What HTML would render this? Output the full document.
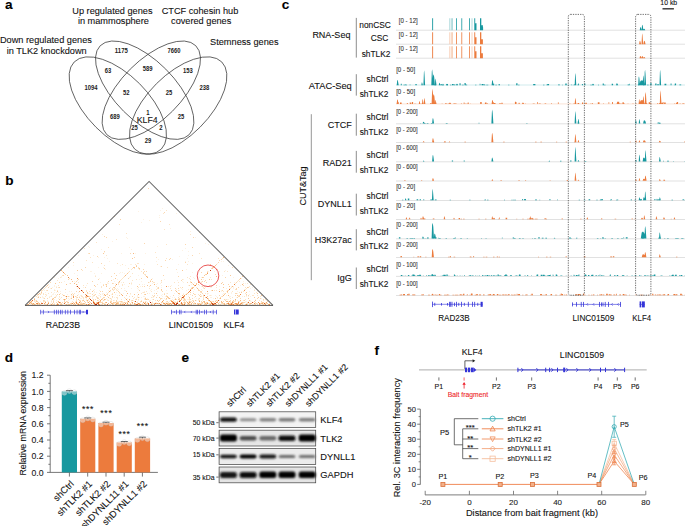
<!DOCTYPE html>
<html><head><meta charset="utf-8"><style>
html,body{margin:0;padding:0;background:#fff;width:685px;height:526px;overflow:hidden}
svg{display:block;font-family:"Liberation Sans", sans-serif}
text{stroke-width:0.1px}
</style></head><body>
<svg width="685" height="526" viewBox="0 0 685 526">
<rect width="685" height="526" fill="#fff"/>
<text x="4.9" y="9" font-size="13.6" text-anchor="start" font-weight="bold" fill="#000" stroke="#000" stroke-width="0.6">a</text>
<text x="5.3" y="185.1" font-size="13.6" text-anchor="start" font-weight="bold" fill="#000" stroke="#000" stroke-width="0.6">b</text>
<text x="281.8" y="9.1" font-size="13.6" text-anchor="start" font-weight="bold" fill="#000" stroke="#000" stroke-width="0.6">c</text>
<text x="4.8" y="361.9" font-size="13.6" text-anchor="start" font-weight="bold" fill="#000" stroke="#000" stroke-width="0.6">d</text>
<text x="181.5" y="362.1" font-size="13.6" text-anchor="start" font-weight="bold" fill="#000" stroke="#000" stroke-width="0.6">e</text>
<text x="374.6" y="354.9" font-size="13.6" text-anchor="start" font-weight="bold" fill="#000" stroke="#000" stroke-width="0.6">f</text>
<text x="112.4" y="13.9" font-size="9.2" text-anchor="middle" font-weight="normal" fill="#111" stroke="#111" >Up regulated genes</text>
<text x="113.4" y="24" font-size="9.2" text-anchor="middle" font-weight="normal" fill="#111" stroke="#111" >in mammosphere</text>
<text x="200" y="13.7" font-size="9.2" text-anchor="middle" font-weight="normal" fill="#111" stroke="#111" >CTCF cohesin hub</text>
<text x="201.2" y="24" font-size="9.2" text-anchor="middle" font-weight="normal" fill="#111" stroke="#111" >covered genes</text>
<text x="45.9" y="43" font-size="9.2" text-anchor="middle" font-weight="normal" fill="#111" stroke="#111" >Down regulated genes</text>
<text x="46.7" y="54" font-size="9.2" text-anchor="middle" font-weight="normal" fill="#111" stroke="#111" >in TLK2 knockdown</text>
<text x="244.3" y="45.4" font-size="9.2" text-anchor="middle" font-weight="normal" fill="#111" stroke="#111" >Stemness genes</text>
<ellipse cx="117.8" cy="105.5" rx="61.6" ry="30.8" transform="rotate(45 117.8 105.5)" fill="none" stroke="#333" stroke-width="0.72"/>
<ellipse cx="178.2" cy="105.5" rx="61.6" ry="30.8" transform="rotate(-45 178.2 105.5)" fill="none" stroke="#333" stroke-width="0.72"/>
<ellipse cx="144.7" cy="90.2" rx="62.9" ry="29.8" transform="rotate(45 144.7 90.2)" fill="none" stroke="#333" stroke-width="0.72"/>
<ellipse cx="151.3" cy="90.2" rx="62.9" ry="29.8" transform="rotate(-45 151.3 90.2)" fill="none" stroke="#333" stroke-width="0.72"/>
<text x="121.3" y="53.4" font-size="6.5" text-anchor="middle" font-weight="bold" fill="#222" textLength="13" lengthAdjust="spacingAndGlyphs">1175</text>
<text x="174.1" y="53" font-size="6.5" text-anchor="middle" font-weight="bold" fill="#222" textLength="13" lengthAdjust="spacingAndGlyphs">7660</text>
<text x="108.1" y="73.1" font-size="6.5" text-anchor="middle" font-weight="bold" fill="#222" textLength="6.5" lengthAdjust="spacingAndGlyphs">63</text>
<text x="147.6" y="71.2" font-size="6.5" text-anchor="middle" font-weight="bold" fill="#222" textLength="9.8" lengthAdjust="spacingAndGlyphs">589</text>
<text x="187.8" y="72.9" font-size="6.5" text-anchor="middle" font-weight="bold" fill="#222" textLength="9.8" lengthAdjust="spacingAndGlyphs">153</text>
<text x="91" y="90.3" font-size="6.5" text-anchor="middle" font-weight="bold" fill="#222" textLength="13" lengthAdjust="spacingAndGlyphs">1094</text>
<text x="126.3" y="94.9" font-size="6.5" text-anchor="middle" font-weight="bold" fill="#222" textLength="6.5" lengthAdjust="spacingAndGlyphs">52</text>
<text x="169" y="94.8" font-size="6.5" text-anchor="middle" font-weight="bold" fill="#222" textLength="6.5" lengthAdjust="spacingAndGlyphs">25</text>
<text x="204.5" y="90.4" font-size="6.5" text-anchor="middle" font-weight="bold" fill="#222" textLength="9.8" lengthAdjust="spacingAndGlyphs">238</text>
<text x="147.9" y="114.6" font-size="6.5" text-anchor="middle" font-weight="bold" fill="#222" textLength="3.3" lengthAdjust="spacingAndGlyphs">1</text>
<text x="114.9" y="119.2" font-size="6.5" text-anchor="middle" font-weight="bold" fill="#222" textLength="9.8" lengthAdjust="spacingAndGlyphs">689</text>
<text x="180.9" y="119.2" font-size="6.5" text-anchor="middle" font-weight="bold" fill="#222" textLength="6.5" lengthAdjust="spacingAndGlyphs">25</text>
<text x="134.4" y="130.3" font-size="6.5" text-anchor="middle" font-weight="bold" fill="#222" textLength="6.5" lengthAdjust="spacingAndGlyphs">25</text>
<text x="161" y="130.3" font-size="6.5" text-anchor="middle" font-weight="bold" fill="#222" textLength="3.3" lengthAdjust="spacingAndGlyphs">2</text>
<text x="147.9" y="143.2" font-size="6.5" text-anchor="middle" font-weight="bold" fill="#222" textLength="6.5" lengthAdjust="spacingAndGlyphs">29</text>
<text x="147.2" y="122.7" font-size="8.8" text-anchor="middle" font-weight="normal" fill="#111" stroke="#111" >KLF4</text>
<defs><filter id="hb" x="-5%" y="-5%" width="110%" height="110%"><feGaussianBlur stdDeviation="0.45"/></filter></defs>
<g filter="url(#hb)">
<path d="M162 208h1v1h-1zM160 210h1v1h-1zM138 211h1v1h-1zM176 213h1v1h-1zM159 215h1v1h-1zM159 217h1v1h-1zM143 219h1v1h-1zM149 220h1v1h-1zM141 222h1v1h-1zM170 228h1v1h-1zM190 231h1v1h-1zM102 234h1v1h-1zM126 237h1v1h-1zM195 237h1v1h-1zM127 238h1v1h-1zM112 241h1v1h-1zM205 243h1v1h-1zM208 244h1v1h-1zM88 246h1v1h-1zM157 246h1v1h-1zM89 247h1v1h-1zM129 247h1v1h-1zM185 248h1v1h-1zM101 249h1v1h-1zM131 249h1v1h-1zM182 250h1v1h-1zM188 251h1v1h-1zM104 252h1v1h-1zM121 253h1v1h-1zM135 253h1v1h-1zM145 253h1v1h-1zM78 255h1v1h-1zM93 255h1v1h-1zM188 255h1v1h-1zM179 256h1v1h-1zM98 257h1v1h-1zM104 257h1v1h-1zM107 258h1v1h-1zM187 258h1v1h-1zM158 259h1v1h-1zM172 259h1v1h-1zM109 261h1v1h-1zM156 261h1v1h-1zM185 261h1v1h-1zM188 261h1v1h-1zM221 261h1v1h-1zM223 261h1v1h-1zM192 263h1v1h-1zM217 263h1v1h-1zM130 264h1v1h-1zM131 264h1v1h-1zM144 264h1v1h-1zM178 264h1v1h-1zM73 265h1v1h-1zM120 265h1v1h-1zM125 265h1v1h-1zM228 265h1v1h-1zM160 266h1v1h-1zM68 267h1v1h-1zM98 267h1v1h-1zM103 267h1v1h-1zM105 269h1v1h-1zM186 269h1v1h-1zM225 270h1v1h-1zM90 271h1v1h-1zM91 271h1v1h-1zM199 271h1v1h-1zM208 271h1v1h-1zM214 271h1v1h-1zM219 271h1v1h-1zM120 272h1v1h-1zM122 272h1v1h-1zM177 272h1v1h-1zM192 272h1v1h-1zM74 273h1v1h-1zM94 273h1v1h-1zM101 273h1v1h-1zM119 273h1v1h-1zM124 273h1v1h-1zM77 275h1v1h-1zM95 275h1v1h-1zM138 275h1v1h-1zM222 275h1v1h-1zM61 276h1v1h-1zM54 277h1v1h-1zM61 277h1v1h-1zM129 277h1v1h-1zM193 277h1v1h-1zM199 277h1v1h-1zM201 277h1v1h-1zM233 277h1v1h-1zM58 278h1v1h-1zM99 278h1v1h-1zM152 278h1v1h-1zM194 278h1v1h-1zM241 278h1v1h-1zM113 279h1v1h-1zM117 279h1v1h-1zM139 279h1v1h-1zM164 279h1v1h-1zM183 279h1v1h-1zM203 279h1v1h-1zM177 280h1v1h-1zM64 281h1v1h-1zM74 281h1v1h-1zM114 281h1v1h-1zM141 281h1v1h-1zM161 281h1v1h-1zM182 281h1v1h-1zM201 281h1v1h-1zM217 281h1v1h-1zM243 281h1v1h-1zM75 282h1v1h-1zM100 282h1v1h-1zM107 282h1v1h-1zM121 282h1v1h-1zM131 282h1v1h-1zM149 282h1v1h-1zM183 282h1v1h-1zM194 282h1v1h-1zM216 282h1v1h-1zM234 282h1v1h-1zM69 283h1v1h-1zM107 283h1v1h-1zM108 283h1v1h-1zM115 283h1v1h-1zM152 283h1v1h-1zM157 283h1v1h-1zM160 283h1v1h-1zM245 283h1v1h-1zM77 284h1v1h-1zM124 284h1v1h-1zM131 284h1v1h-1zM142 284h1v1h-1zM144 284h1v1h-1zM156 284h1v1h-1zM191 284h1v1h-1zM54 285h1v1h-1zM86 285h1v1h-1zM161 285h1v1h-1zM171 285h1v1h-1zM188 285h1v1h-1zM199 285h1v1h-1zM235 285h1v1h-1zM240 285h1v1h-1zM49 286h1v1h-1zM54 286h1v1h-1zM56 286h1v1h-1zM119 286h1v1h-1zM140 286h1v1h-1zM194 286h1v1h-1zM201 286h1v1h-1zM219 286h1v1h-1zM231 286h1v1h-1zM233 286h1v1h-1zM52 287h1v1h-1zM83 287h1v1h-1zM110 287h1v1h-1zM157 287h1v1h-1zM161 287h1v1h-1zM191 287h1v1h-1zM205 287h1v1h-1zM210 287h1v1h-1zM211 287h1v1h-1zM233 287h1v1h-1zM252 287h1v1h-1zM50 288h1v1h-1zM77 288h1v1h-1zM114 288h1v1h-1zM117 288h1v1h-1zM124 288h1v1h-1zM131 288h1v1h-1zM137 288h1v1h-1zM181 288h1v1h-1zM203 288h1v1h-1zM226 288h1v1h-1zM229 288h1v1h-1zM233 288h1v1h-1zM250 288h1v1h-1zM41 289h1v1h-1zM54 289h1v1h-1zM94 289h1v1h-1zM113 289h1v1h-1zM118 289h1v1h-1zM138 289h1v1h-1zM151 289h1v1h-1zM176 289h1v1h-1zM182 289h1v1h-1zM191 289h1v1h-1zM194 289h1v1h-1zM201 289h1v1h-1zM244 289h1v1h-1zM254 289h1v1h-1zM44 290h1v1h-1zM55 290h1v1h-1zM99 290h1v1h-1zM108 290h1v1h-1zM116 290h1v1h-1zM124 290h1v1h-1zM125 290h1v1h-1zM150 290h1v1h-1zM154 290h1v1h-1zM166 290h1v1h-1zM179 290h1v1h-1zM186 290h1v1h-1zM202 290h1v1h-1zM221 290h1v1h-1zM60 291h1v1h-1zM69 291h1v1h-1zM71 291h1v1h-1zM94 291h1v1h-1zM110 291h1v1h-1zM144 291h1v1h-1zM157 291h1v1h-1zM193 291h1v1h-1zM221 291h1v1h-1zM226 291h1v1h-1zM237 291h1v1h-1zM241 291h1v1h-1zM249 291h1v1h-1zM257 291h1v1h-1zM45 292h1v1h-1zM54 292h1v1h-1zM56 292h1v1h-1zM58 292h1v1h-1zM65 292h1v1h-1zM78 292h1v1h-1zM94 292h1v1h-1zM96 292h1v1h-1zM106 292h1v1h-1zM116 292h1v1h-1zM137 292h1v1h-1zM142 292h1v1h-1zM231 292h1v1h-1zM40 293h1v1h-1zM53 293h1v1h-1zM88 293h1v1h-1zM89 293h1v1h-1zM93 293h1v1h-1zM102 293h1v1h-1zM103 293h1v1h-1zM119 293h1v1h-1zM120 293h1v1h-1zM123 293h1v1h-1zM149 293h1v1h-1zM166 293h1v1h-1zM174 293h1v1h-1zM183 293h1v1h-1zM186 293h1v1h-1zM208 293h1v1h-1zM223 293h1v1h-1zM224 293h1v1h-1zM228 293h1v1h-1zM231 293h1v1h-1zM237 293h1v1h-1zM36 294h1v1h-1zM46 294h1v1h-1zM52 294h1v1h-1zM53 294h1v1h-1zM55 294h1v1h-1zM67 294h1v1h-1zM78 294h1v1h-1zM86 294h1v1h-1zM94 294h1v1h-1zM102 294h1v1h-1zM111 294h1v1h-1zM115 294h1v1h-1zM130 294h1v1h-1zM162 294h1v1h-1zM188 294h1v1h-1zM203 294h1v1h-1zM207 294h1v1h-1zM222 294h1v1h-1zM249 294h1v1h-1zM51 295h1v1h-1zM71 295h1v1h-1zM72 295h1v1h-1zM80 295h1v1h-1zM98 295h1v1h-1zM99 295h1v1h-1zM103 295h1v1h-1zM117 295h1v1h-1zM137 295h1v1h-1zM161 295h1v1h-1zM178 295h1v1h-1zM201 295h1v1h-1zM209 295h1v1h-1zM211 295h1v1h-1zM215 295h1v1h-1zM226 295h1v1h-1zM238 295h1v1h-1zM35 296h1v1h-1zM42 296h1v1h-1zM49 296h1v1h-1zM50 296h1v1h-1zM55 296h1v1h-1zM56 296h1v1h-1zM67 296h1v1h-1zM69 296h1v1h-1zM71 296h1v1h-1zM76 296h1v1h-1zM79 296h1v1h-1zM92 296h1v1h-1zM93 296h1v1h-1zM137 296h1v1h-1zM143 296h1v1h-1zM144 296h1v1h-1zM154 296h1v1h-1zM162 296h1v1h-1zM165 296h1v1h-1zM170 296h1v1h-1zM179 296h1v1h-1zM180 296h1v1h-1zM188 296h1v1h-1zM216 296h1v1h-1zM229 296h1v1h-1zM230 296h1v1h-1zM242 296h1v1h-1zM246 296h1v1h-1zM248 296h1v1h-1zM250 296h1v1h-1zM37 297h1v1h-1zM42 297h1v1h-1zM43 297h1v1h-1zM59 297h1v1h-1zM66 297h1v1h-1zM71 297h1v1h-1zM82 297h1v1h-1zM89 297h1v1h-1zM92 297h1v1h-1zM96 297h1v1h-1zM98 297h1v1h-1zM100 297h1v1h-1zM114 297h1v1h-1zM137 297h1v1h-1zM139 297h1v1h-1zM141 297h1v1h-1zM145 297h1v1h-1zM152 297h1v1h-1zM153 297h1v1h-1zM172 297h1v1h-1zM174 297h1v1h-1zM194 297h1v1h-1zM210 297h1v1h-1zM211 297h1v1h-1zM229 297h1v1h-1zM236 297h1v1h-1zM43 298h1v1h-1zM58 298h1v1h-1zM60 298h1v1h-1zM68 298h1v1h-1zM70 298h1v1h-1zM76 298h1v1h-1zM80 298h1v1h-1zM81 298h1v1h-1zM86 298h1v1h-1zM92 298h1v1h-1zM103 298h1v1h-1zM106 298h1v1h-1zM109 298h1v1h-1zM111 298h1v1h-1zM127 298h1v1h-1zM136 298h1v1h-1zM144 298h1v1h-1zM147 298h1v1h-1zM162 298h1v1h-1zM164 298h1v1h-1zM170 298h1v1h-1zM178 298h1v1h-1zM182 298h1v1h-1zM196 298h1v1h-1zM198 298h1v1h-1zM213 298h1v1h-1zM217 298h1v1h-1zM261 298h1v1h-1zM265 298h1v1h-1zM53 299h1v1h-1zM54 299h1v1h-1zM69 299h1v1h-1zM83 299h1v1h-1zM86 299h1v1h-1zM107 299h1v1h-1zM117 299h1v1h-1zM144 299h1v1h-1zM152 299h1v1h-1zM165 299h1v1h-1zM172 299h1v1h-1zM174 299h1v1h-1zM183 299h1v1h-1zM187 299h1v1h-1zM188 299h1v1h-1zM225 299h1v1h-1zM227 299h1v1h-1zM228 299h1v1h-1zM255 299h1v1h-1zM35 300h1v1h-1zM47 300h1v1h-1zM51 300h1v1h-1zM56 300h1v1h-1zM68 300h1v1h-1zM88 300h1v1h-1zM92 300h1v1h-1zM104 300h1v1h-1zM107 300h1v1h-1zM110 300h1v1h-1zM111 300h1v1h-1zM114 300h1v1h-1zM124 300h1v1h-1zM133 300h1v1h-1zM138 300h1v1h-1zM149 300h1v1h-1zM150 300h1v1h-1zM189 300h1v1h-1zM196 300h1v1h-1zM198 300h1v1h-1zM202 300h1v1h-1zM206 300h1v1h-1zM215 300h1v1h-1zM217 300h1v1h-1zM219 300h1v1h-1zM237 300h1v1h-1zM250 300h1v1h-1zM266 300h1v1h-1zM30 301h1v1h-1zM32 301h1v1h-1zM35 301h1v1h-1zM40 301h1v1h-1zM47 301h1v1h-1zM48 301h1v1h-1zM57 301h1v1h-1zM75 301h1v1h-1zM79 301h1v1h-1zM82 301h1v1h-1zM98 301h1v1h-1zM102 301h1v1h-1zM117 301h1v1h-1zM118 301h1v1h-1zM131 301h1v1h-1zM137 301h1v1h-1zM143 301h1v1h-1zM146 301h1v1h-1zM152 301h1v1h-1zM169 301h1v1h-1zM173 301h1v1h-1zM174 301h1v1h-1zM175 301h1v1h-1zM178 301h1v1h-1zM180 301h1v1h-1zM188 301h1v1h-1zM209 301h1v1h-1zM228 301h1v1h-1zM240 301h1v1h-1zM245 301h1v1h-1zM246 301h1v1h-1zM248 301h1v1h-1zM250 301h1v1h-1zM251 301h1v1h-1zM28 302h1v1h-1zM37 302h1v1h-1zM43 302h1v1h-1zM51 302h1v1h-1zM71 302h1v1h-1zM120 302h1v1h-1zM128 302h1v1h-1zM136 302h1v1h-1zM140 302h1v1h-1zM144 302h1v1h-1zM151 302h1v1h-1zM155 302h1v1h-1zM156 302h1v1h-1zM165 302h1v1h-1zM166 302h1v1h-1zM167 302h1v1h-1zM188 302h1v1h-1zM203 302h1v1h-1zM205 302h1v1h-1zM210 302h1v1h-1zM213 302h1v1h-1zM214 302h1v1h-1zM231 302h1v1h-1zM239 302h1v1h-1zM245 302h1v1h-1zM265 302h1v1h-1zM34 303h1v1h-1zM45 303h1v1h-1zM47 303h1v1h-1zM50 303h1v1h-1zM59 303h1v1h-1zM63 303h1v1h-1zM67 303h1v1h-1zM68 303h1v1h-1zM73 303h1v1h-1zM85 303h1v1h-1zM105 303h1v1h-1zM115 303h1v1h-1zM121 303h1v1h-1zM152 303h1v1h-1zM161 303h1v1h-1zM178 303h1v1h-1zM243 303h1v1h-1zM248 303h1v1h-1zM263 303h1v1h-1zM269 303h1v1h-1zM270 303h1v1h-1zM30 304h1v1h-1zM31 304h1v1h-1zM36 304h1v1h-1zM41 304h1v1h-1zM100 304h1v1h-1zM132 304h1v1h-1zM133 304h1v1h-1zM158 304h1v1h-1zM170 304h1v1h-1zM180 304h1v1h-1zM194 304h1v1h-1zM195 304h1v1h-1zM211 304h1v1h-1zM221 304h1v1h-1zM222 304h1v1h-1zM241 304h1v1h-1zM253 304h1v1h-1zM271 304h1v1h-1zM47 305h1v1h-1zM57 305h1v1h-1zM61 305h1v1h-1zM65 305h1v1h-1zM67 305h1v1h-1zM95 305h1v1h-1zM100 305h1v1h-1zM121 305h1v1h-1zM149 305h1v1h-1zM159 305h1v1h-1zM160 305h1v1h-1zM161 305h1v1h-1zM163 305h1v1h-1zM173 305h1v1h-1zM177 305h1v1h-1zM182 305h1v1h-1zM185 305h1v1h-1zM191 305h1v1h-1zM194 305h1v1h-1zM215 305h1v1h-1zM220 305h1v1h-1zM232 305h1v1h-1zM243 305h1v1h-1zM271 305h1v1h-1z" fill="#fdf2e3"/>
<path d="M166 210h1v1h-1zM163 213h1v1h-1zM119 224h1v1h-1zM169 224h1v1h-1zM164 229h1v1h-1zM199 232h1v1h-1zM126 233h1v1h-1zM190 234h1v1h-1zM116 239h1v1h-1zM96 242h1v1h-1zM166 244h1v1h-1zM108 247h1v1h-1zM84 248h1v1h-1zM155 252h1v1h-1zM88 253h1v1h-1zM199 253h1v1h-1zM106 255h1v1h-1zM90 257h1v1h-1zM156 257h1v1h-1zM166 258h1v1h-1zM201 258h1v1h-1zM218 258h1v1h-1zM222 258h1v1h-1zM86 260h1v1h-1zM73 262h1v1h-1zM92 262h1v1h-1zM117 263h1v1h-1zM137 263h1v1h-1zM138 263h1v1h-1zM122 264h1v1h-1zM135 264h1v1h-1zM157 264h1v1h-1zM187 264h1v1h-1zM104 265h1v1h-1zM138 267h1v1h-1zM167 267h1v1h-1zM128 268h1v1h-1zM132 268h1v1h-1zM134 268h1v1h-1zM138 268h1v1h-1zM131 269h1v1h-1zM139 269h1v1h-1zM176 269h1v1h-1zM82 270h1v1h-1zM129 271h1v1h-1zM141 271h1v1h-1zM207 271h1v1h-1zM224 271h1v1h-1zM227 271h1v1h-1zM128 272h1v1h-1zM56 273h1v1h-1zM132 273h1v1h-1zM126 274h1v1h-1zM144 274h1v1h-1zM145 274h1v1h-1zM62 275h1v1h-1zM145 275h1v1h-1zM243 275h1v1h-1zM95 276h1v1h-1zM130 276h1v1h-1zM147 276h1v1h-1zM190 276h1v1h-1zM60 277h1v1h-1zM123 277h1v1h-1zM187 277h1v1h-1zM210 277h1v1h-1zM122 278h1v1h-1zM189 278h1v1h-1zM121 279h1v1h-1zM136 279h1v1h-1zM182 279h1v1h-1zM190 279h1v1h-1zM211 279h1v1h-1zM57 280h1v1h-1zM77 280h1v1h-1zM120 280h1v1h-1zM132 280h1v1h-1zM150 280h1v1h-1zM238 280h1v1h-1zM190 281h1v1h-1zM237 281h1v1h-1zM239 281h1v1h-1zM61 282h1v1h-1zM78 282h1v1h-1zM119 282h1v1h-1zM123 282h1v1h-1zM153 282h1v1h-1zM154 282h1v1h-1zM161 282h1v1h-1zM174 282h1v1h-1zM178 282h1v1h-1zM190 282h1v1h-1zM201 282h1v1h-1zM230 282h1v1h-1zM87 283h1v1h-1zM113 283h1v1h-1zM118 283h1v1h-1zM131 283h1v1h-1zM192 283h1v1h-1zM235 283h1v1h-1zM243 283h1v1h-1zM247 283h1v1h-1zM48 284h1v1h-1zM97 284h1v1h-1zM103 284h1v1h-1zM105 284h1v1h-1zM118 284h1v1h-1zM122 284h1v1h-1zM139 284h1v1h-1zM250 284h1v1h-1zM58 285h1v1h-1zM83 285h1v1h-1zM106 285h1v1h-1zM122 285h1v1h-1zM178 285h1v1h-1zM209 285h1v1h-1zM101 286h1v1h-1zM115 286h1v1h-1zM128 286h1v1h-1zM142 286h1v1h-1zM149 286h1v1h-1zM156 286h1v1h-1zM168 286h1v1h-1zM170 286h1v1h-1zM204 286h1v1h-1zM211 286h1v1h-1zM249 286h1v1h-1zM45 287h1v1h-1zM56 287h1v1h-1zM58 287h1v1h-1zM101 287h1v1h-1zM138 287h1v1h-1zM180 287h1v1h-1zM196 287h1v1h-1zM203 287h1v1h-1zM216 287h1v1h-1zM231 287h1v1h-1zM245 287h1v1h-1zM44 288h1v1h-1zM112 288h1v1h-1zM115 288h1v1h-1zM121 288h1v1h-1zM149 288h1v1h-1zM157 288h1v1h-1zM170 288h1v1h-1zM230 288h1v1h-1zM246 288h1v1h-1zM43 289h1v1h-1zM90 289h1v1h-1zM114 289h1v1h-1zM116 289h1v1h-1zM156 289h1v1h-1zM188 289h1v1h-1zM219 289h1v1h-1zM235 289h1v1h-1zM245 289h1v1h-1zM41 290h1v1h-1zM42 290h1v1h-1zM46 290h1v1h-1zM54 290h1v1h-1zM57 290h1v1h-1zM86 290h1v1h-1zM93 290h1v1h-1zM113 290h1v1h-1zM117 290h1v1h-1zM178 290h1v1h-1zM211 290h1v1h-1zM214 290h1v1h-1zM216 290h1v1h-1zM227 290h1v1h-1zM254 290h1v1h-1zM41 291h1v1h-1zM86 291h1v1h-1zM89 291h1v1h-1zM146 291h1v1h-1zM151 291h1v1h-1zM223 291h1v1h-1zM232 291h1v1h-1zM243 291h1v1h-1zM51 292h1v1h-1zM108 292h1v1h-1zM143 292h1v1h-1zM144 292h1v1h-1zM177 292h1v1h-1zM200 292h1v1h-1zM239 292h1v1h-1zM256 292h1v1h-1zM41 293h1v1h-1zM43 293h1v1h-1zM48 293h1v1h-1zM60 293h1v1h-1zM72 293h1v1h-1zM74 293h1v1h-1zM90 293h1v1h-1zM99 293h1v1h-1zM107 293h1v1h-1zM112 293h1v1h-1zM130 293h1v1h-1zM141 293h1v1h-1zM147 293h1v1h-1zM154 293h1v1h-1zM164 293h1v1h-1zM167 293h1v1h-1zM205 293h1v1h-1zM207 293h1v1h-1zM245 293h1v1h-1zM254 293h1v1h-1zM37 294h1v1h-1zM43 294h1v1h-1zM45 294h1v1h-1zM62 294h1v1h-1zM100 294h1v1h-1zM106 294h1v1h-1zM179 294h1v1h-1zM183 294h1v1h-1zM185 294h1v1h-1zM190 294h1v1h-1zM195 294h1v1h-1zM198 294h1v1h-1zM37 295h1v1h-1zM46 295h1v1h-1zM56 295h1v1h-1zM73 295h1v1h-1zM81 295h1v1h-1zM87 295h1v1h-1zM93 295h1v1h-1zM104 295h1v1h-1zM152 295h1v1h-1zM157 295h1v1h-1zM166 295h1v1h-1zM210 295h1v1h-1zM246 295h1v1h-1zM252 295h1v1h-1zM253 295h1v1h-1zM257 295h1v1h-1zM36 296h1v1h-1zM38 296h1v1h-1zM45 296h1v1h-1zM51 296h1v1h-1zM59 296h1v1h-1zM65 296h1v1h-1zM81 296h1v1h-1zM82 296h1v1h-1zM89 296h1v1h-1zM90 296h1v1h-1zM100 296h1v1h-1zM107 296h1v1h-1zM129 296h1v1h-1zM201 296h1v1h-1zM203 296h1v1h-1zM221 296h1v1h-1zM244 296h1v1h-1zM260 296h1v1h-1zM49 297h1v1h-1zM61 297h1v1h-1zM76 297h1v1h-1zM83 297h1v1h-1zM112 297h1v1h-1zM116 297h1v1h-1zM117 297h1v1h-1zM124 297h1v1h-1zM134 297h1v1h-1zM151 297h1v1h-1zM181 297h1v1h-1zM203 297h1v1h-1zM217 297h1v1h-1zM232 297h1v1h-1zM52 298h1v1h-1zM83 298h1v1h-1zM117 298h1v1h-1zM125 298h1v1h-1zM133 298h1v1h-1zM175 298h1v1h-1zM183 298h1v1h-1zM189 298h1v1h-1zM203 298h1v1h-1zM208 298h1v1h-1zM219 298h1v1h-1zM230 298h1v1h-1zM73 299h1v1h-1zM76 299h1v1h-1zM88 299h1v1h-1zM99 299h1v1h-1zM102 299h1v1h-1zM111 299h1v1h-1zM121 299h1v1h-1zM135 299h1v1h-1zM138 299h1v1h-1zM147 299h1v1h-1zM160 299h1v1h-1zM166 299h1v1h-1zM176 299h1v1h-1zM185 299h1v1h-1zM189 299h1v1h-1zM198 299h1v1h-1zM226 299h1v1h-1zM245 299h1v1h-1zM265 299h1v1h-1zM34 300h1v1h-1zM44 300h1v1h-1zM53 300h1v1h-1zM76 300h1v1h-1zM80 300h1v1h-1zM86 300h1v1h-1zM98 300h1v1h-1zM108 300h1v1h-1zM113 300h1v1h-1zM127 300h1v1h-1zM129 300h1v1h-1zM131 300h1v1h-1zM141 300h1v1h-1zM155 300h1v1h-1zM173 300h1v1h-1zM184 300h1v1h-1zM185 300h1v1h-1zM192 300h1v1h-1zM193 300h1v1h-1zM243 300h1v1h-1zM259 300h1v1h-1zM263 300h1v1h-1zM34 301h1v1h-1zM43 301h1v1h-1zM44 301h1v1h-1zM45 301h1v1h-1zM51 301h1v1h-1zM67 301h1v1h-1zM72 301h1v1h-1zM87 301h1v1h-1zM92 301h1v1h-1zM119 301h1v1h-1zM122 301h1v1h-1zM127 301h1v1h-1zM134 301h1v1h-1zM140 301h1v1h-1zM145 301h1v1h-1zM149 301h1v1h-1zM166 301h1v1h-1zM184 301h1v1h-1zM190 301h1v1h-1zM191 301h1v1h-1zM211 301h1v1h-1zM212 301h1v1h-1zM230 301h1v1h-1zM233 301h1v1h-1zM234 301h1v1h-1zM235 301h1v1h-1zM239 301h1v1h-1zM35 302h1v1h-1zM41 302h1v1h-1zM64 302h1v1h-1zM80 302h1v1h-1zM81 302h1v1h-1zM87 302h1v1h-1zM111 302h1v1h-1zM116 302h1v1h-1zM121 302h1v1h-1zM122 302h1v1h-1zM123 302h1v1h-1zM125 302h1v1h-1zM126 302h1v1h-1zM129 302h1v1h-1zM131 302h1v1h-1zM137 302h1v1h-1zM152 302h1v1h-1zM162 302h1v1h-1zM163 302h1v1h-1zM168 302h1v1h-1zM174 302h1v1h-1zM176 302h1v1h-1zM183 302h1v1h-1zM194 302h1v1h-1zM201 302h1v1h-1zM219 302h1v1h-1zM230 302h1v1h-1zM247 302h1v1h-1zM253 302h1v1h-1zM261 302h1v1h-1zM30 303h1v1h-1zM54 303h1v1h-1zM60 303h1v1h-1zM104 303h1v1h-1zM114 303h1v1h-1zM122 303h1v1h-1zM135 303h1v1h-1zM137 303h1v1h-1zM142 303h1v1h-1zM146 303h1v1h-1zM153 303h1v1h-1zM165 303h1v1h-1zM171 303h1v1h-1zM180 303h1v1h-1zM187 303h1v1h-1zM189 303h1v1h-1zM200 303h1v1h-1zM204 303h1v1h-1zM208 303h1v1h-1zM209 303h1v1h-1zM210 303h1v1h-1zM221 303h1v1h-1zM229 303h1v1h-1zM246 303h1v1h-1zM247 303h1v1h-1zM255 303h1v1h-1zM257 303h1v1h-1zM38 304h1v1h-1zM44 304h1v1h-1zM45 304h1v1h-1zM46 304h1v1h-1zM50 304h1v1h-1zM52 304h1v1h-1zM62 304h1v1h-1zM65 304h1v1h-1zM67 304h1v1h-1zM70 304h1v1h-1zM74 304h1v1h-1zM83 304h1v1h-1zM84 304h1v1h-1zM85 304h1v1h-1zM87 304h1v1h-1zM90 304h1v1h-1zM101 304h1v1h-1zM102 304h1v1h-1zM109 304h1v1h-1zM113 304h1v1h-1zM129 304h1v1h-1zM131 304h1v1h-1zM138 304h1v1h-1zM141 304h1v1h-1zM143 304h1v1h-1zM150 304h1v1h-1zM164 304h1v1h-1zM193 304h1v1h-1zM199 304h1v1h-1zM218 304h1v1h-1zM219 304h1v1h-1zM223 304h1v1h-1zM225 304h1v1h-1zM226 304h1v1h-1zM234 304h1v1h-1zM250 304h1v1h-1zM252 304h1v1h-1zM254 304h1v1h-1zM260 304h1v1h-1zM262 304h1v1h-1zM264 304h1v1h-1zM31 305h1v1h-1zM43 305h1v1h-1zM49 305h1v1h-1zM102 305h1v1h-1zM131 305h1v1h-1zM140 305h1v1h-1zM151 305h1v1h-1zM166 305h1v1h-1zM206 305h1v1h-1zM221 305h1v1h-1zM234 305h1v1h-1zM251 305h1v1h-1zM253 305h1v1h-1zM263 305h1v1h-1z" fill="#fce5c8"/>
<path d="M148 188h1v1h-1zM164 212h1v1h-1zM114 216h1v1h-1zM120 219h1v1h-1zM160 221h1v1h-1zM104 236h1v1h-1zM106 237h1v1h-1zM193 237h1v1h-1zM144 243h1v1h-1zM185 244h1v1h-1zM192 247h1v1h-1zM104 251h1v1h-1zM89 253h1v1h-1zM130 253h1v1h-1zM192 255h1v1h-1zM97 256h1v1h-1zM134 257h1v1h-1zM170 258h1v1h-1zM169 259h1v1h-1zM221 259h1v1h-1zM165 260h1v1h-1zM219 260h1v1h-1zM185 262h1v1h-1zM218 262h1v1h-1zM101 263h1v1h-1zM216 264h1v1h-1zM136 265h1v1h-1zM161 266h1v1h-1zM85 267h1v1h-1zM212 267h1v1h-1zM213 267h1v1h-1zM232 267h1v1h-1zM104 268h1v1h-1zM211 268h1v1h-1zM81 269h1v1h-1zM143 269h1v1h-1zM217 269h1v1h-1zM62 271h1v1h-1zM144 271h1v1h-1zM146 271h1v1h-1zM143 272h1v1h-1zM201 272h1v1h-1zM114 273h1v1h-1zM143 273h1v1h-1zM65 274h1v1h-1zM205 274h1v1h-1zM215 274h1v1h-1zM63 275h1v1h-1zM116 275h1v1h-1zM163 275h1v1h-1zM111 276h1v1h-1zM124 276h1v1h-1zM178 276h1v1h-1zM203 277h1v1h-1zM225 277h1v1h-1zM69 278h1v1h-1zM128 278h1v1h-1zM141 278h1v1h-1zM68 279h1v1h-1zM78 279h1v1h-1zM98 279h1v1h-1zM239 279h1v1h-1zM111 280h1v1h-1zM161 280h1v1h-1zM181 280h1v1h-1zM205 280h1v1h-1zM76 281h1v1h-1zM92 281h1v1h-1zM108 281h1v1h-1zM152 281h1v1h-1zM202 281h1v1h-1zM204 281h1v1h-1zM50 282h1v1h-1zM59 282h1v1h-1zM118 282h1v1h-1zM148 282h1v1h-1zM187 282h1v1h-1zM206 282h1v1h-1zM222 282h1v1h-1zM236 282h1v1h-1zM70 283h1v1h-1zM112 283h1v1h-1zM129 283h1v1h-1zM198 284h1v1h-1zM228 284h1v1h-1zM103 285h1v1h-1zM115 285h1v1h-1zM189 285h1v1h-1zM216 285h1v1h-1zM243 285h1v1h-1zM46 286h1v1h-1zM76 286h1v1h-1zM95 286h1v1h-1zM144 286h1v1h-1zM202 286h1v1h-1zM48 287h1v1h-1zM59 287h1v1h-1zM85 287h1v1h-1zM113 287h1v1h-1zM158 287h1v1h-1zM182 287h1v1h-1zM238 287h1v1h-1zM248 287h1v1h-1zM51 288h1v1h-1zM109 288h1v1h-1zM158 288h1v1h-1zM175 288h1v1h-1zM178 288h1v1h-1zM204 288h1v1h-1zM236 288h1v1h-1zM65 289h1v1h-1zM112 289h1v1h-1zM198 289h1v1h-1zM236 289h1v1h-1zM47 290h1v1h-1zM82 290h1v1h-1zM110 290h1v1h-1zM139 290h1v1h-1zM161 290h1v1h-1zM171 290h1v1h-1zM175 290h1v1h-1zM198 290h1v1h-1zM199 290h1v1h-1zM222 290h1v1h-1zM228 290h1v1h-1zM76 291h1v1h-1zM100 291h1v1h-1zM102 291h1v1h-1zM118 291h1v1h-1zM126 291h1v1h-1zM162 291h1v1h-1zM200 291h1v1h-1zM201 291h1v1h-1zM119 292h1v1h-1zM201 292h1v1h-1zM227 292h1v1h-1zM87 293h1v1h-1zM193 293h1v1h-1zM202 293h1v1h-1zM225 293h1v1h-1zM235 293h1v1h-1zM236 293h1v1h-1zM40 294h1v1h-1zM57 294h1v1h-1zM73 294h1v1h-1zM92 294h1v1h-1zM95 294h1v1h-1zM107 294h1v1h-1zM112 294h1v1h-1zM144 294h1v1h-1zM164 294h1v1h-1zM194 294h1v1h-1zM200 294h1v1h-1zM246 294h1v1h-1zM64 295h1v1h-1zM77 295h1v1h-1zM94 295h1v1h-1zM119 295h1v1h-1zM126 295h1v1h-1zM154 295h1v1h-1zM173 295h1v1h-1zM192 295h1v1h-1zM199 295h1v1h-1zM203 295h1v1h-1zM219 295h1v1h-1zM235 295h1v1h-1zM239 295h1v1h-1zM248 295h1v1h-1zM68 296h1v1h-1zM75 296h1v1h-1zM85 296h1v1h-1zM86 296h1v1h-1zM96 296h1v1h-1zM112 296h1v1h-1zM132 296h1v1h-1zM153 296h1v1h-1zM166 296h1v1h-1zM195 296h1v1h-1zM222 296h1v1h-1zM238 296h1v1h-1zM239 296h1v1h-1zM40 297h1v1h-1zM54 297h1v1h-1zM55 297h1v1h-1zM77 297h1v1h-1zM79 297h1v1h-1zM85 297h1v1h-1zM97 297h1v1h-1zM103 297h1v1h-1zM104 297h1v1h-1zM156 297h1v1h-1zM167 297h1v1h-1zM178 297h1v1h-1zM205 297h1v1h-1zM220 297h1v1h-1zM237 297h1v1h-1zM34 298h1v1h-1zM44 298h1v1h-1zM47 298h1v1h-1zM97 298h1v1h-1zM98 298h1v1h-1zM102 298h1v1h-1zM110 298h1v1h-1zM160 298h1v1h-1zM161 298h1v1h-1zM168 298h1v1h-1zM179 298h1v1h-1zM184 298h1v1h-1zM192 298h1v1h-1zM199 298h1v1h-1zM240 298h1v1h-1zM257 298h1v1h-1zM260 298h1v1h-1zM63 299h1v1h-1zM65 299h1v1h-1zM93 299h1v1h-1zM95 299h1v1h-1zM105 299h1v1h-1zM136 299h1v1h-1zM145 299h1v1h-1zM148 299h1v1h-1zM153 299h1v1h-1zM179 299h1v1h-1zM190 299h1v1h-1zM203 299h1v1h-1zM208 299h1v1h-1zM224 299h1v1h-1zM263 299h1v1h-1zM36 300h1v1h-1zM43 300h1v1h-1zM64 300h1v1h-1zM79 300h1v1h-1zM82 300h1v1h-1zM93 300h1v1h-1zM97 300h1v1h-1zM103 300h1v1h-1zM116 300h1v1h-1zM132 300h1v1h-1zM159 300h1v1h-1zM170 300h1v1h-1zM183 300h1v1h-1zM199 300h1v1h-1zM216 300h1v1h-1zM225 300h1v1h-1zM230 300h1v1h-1zM235 300h1v1h-1zM244 300h1v1h-1zM37 301h1v1h-1zM53 301h1v1h-1zM64 301h1v1h-1zM66 301h1v1h-1zM76 301h1v1h-1zM99 301h1v1h-1zM110 301h1v1h-1zM111 301h1v1h-1zM116 301h1v1h-1zM120 301h1v1h-1zM158 301h1v1h-1zM167 301h1v1h-1zM177 301h1v1h-1zM186 301h1v1h-1zM201 301h1v1h-1zM213 301h1v1h-1zM223 301h1v1h-1zM238 301h1v1h-1zM261 301h1v1h-1zM267 301h1v1h-1zM29 302h1v1h-1zM31 302h1v1h-1zM38 302h1v1h-1zM53 302h1v1h-1zM56 302h1v1h-1zM58 302h1v1h-1zM62 302h1v1h-1zM67 302h1v1h-1zM75 302h1v1h-1zM85 302h1v1h-1zM90 302h1v1h-1zM96 302h1v1h-1zM100 302h1v1h-1zM101 302h1v1h-1zM102 302h1v1h-1zM114 302h1v1h-1zM118 302h1v1h-1zM127 302h1v1h-1zM147 302h1v1h-1zM175 302h1v1h-1zM185 302h1v1h-1zM206 302h1v1h-1zM228 302h1v1h-1zM241 302h1v1h-1zM243 302h1v1h-1zM244 302h1v1h-1zM255 302h1v1h-1zM32 303h1v1h-1zM38 303h1v1h-1zM61 303h1v1h-1zM70 303h1v1h-1zM78 303h1v1h-1zM80 303h1v1h-1zM81 303h1v1h-1zM82 303h1v1h-1zM95 303h1v1h-1zM103 303h1v1h-1zM113 303h1v1h-1zM120 303h1v1h-1zM123 303h1v1h-1zM130 303h1v1h-1zM145 303h1v1h-1zM147 303h1v1h-1zM151 303h1v1h-1zM158 303h1v1h-1zM168 303h1v1h-1zM185 303h1v1h-1zM193 303h1v1h-1zM194 303h1v1h-1zM198 303h1v1h-1zM201 303h1v1h-1zM202 303h1v1h-1zM206 303h1v1h-1zM222 303h1v1h-1zM223 303h1v1h-1zM226 303h1v1h-1zM230 303h1v1h-1zM234 303h1v1h-1zM242 303h1v1h-1zM249 303h1v1h-1zM256 303h1v1h-1zM260 303h1v1h-1zM265 303h1v1h-1zM266 303h1v1h-1zM33 304h1v1h-1zM35 304h1v1h-1zM40 304h1v1h-1zM53 304h1v1h-1zM54 304h1v1h-1zM56 304h1v1h-1zM71 304h1v1h-1zM110 304h1v1h-1zM117 304h1v1h-1zM118 304h1v1h-1zM119 304h1v1h-1zM126 304h1v1h-1zM146 304h1v1h-1zM152 304h1v1h-1zM187 304h1v1h-1zM188 304h1v1h-1zM190 304h1v1h-1zM197 304h1v1h-1zM201 304h1v1h-1zM204 304h1v1h-1zM205 304h1v1h-1zM209 304h1v1h-1zM220 304h1v1h-1zM235 304h1v1h-1zM238 304h1v1h-1zM242 304h1v1h-1zM245 304h1v1h-1zM247 304h1v1h-1zM249 304h1v1h-1zM255 304h1v1h-1zM257 304h1v1h-1zM263 304h1v1h-1zM25 305h1v1h-1zM42 305h1v1h-1zM56 305h1v1h-1zM74 305h1v1h-1zM113 305h1v1h-1zM146 305h1v1h-1zM170 305h1v1h-1zM187 305h1v1h-1zM203 305h1v1h-1zM239 305h1v1h-1zM241 305h1v1h-1zM261 305h1v1h-1zM265 305h1v1h-1zM266 305h1v1h-1z" fill="#fbd7af"/>
<path d="M103 253h1v1h-1zM132 258h1v1h-1zM210 264h1v1h-1zM215 265h1v1h-1zM136 266h1v1h-1zM213 266h1v1h-1zM214 266h1v1h-1zM133 267h1v1h-1zM134 267h1v1h-1zM139 268h1v1h-1zM212 268h1v1h-1zM77 270h1v1h-1zM182 270h1v1h-1zM207 272h1v1h-1zM64 273h1v1h-1zM127 273h1v1h-1zM206 274h1v1h-1zM67 275h1v1h-1zM204 275h1v1h-1zM230 275h1v1h-1zM242 276h1v1h-1zM202 277h1v1h-1zM115 278h1v1h-1zM151 279h1v1h-1zM201 279h1v1h-1zM209 279h1v1h-1zM72 281h1v1h-1zM150 281h1v1h-1zM55 283h1v1h-1zM196 283h1v1h-1zM221 283h1v1h-1zM66 284h1v1h-1zM106 284h1v1h-1zM196 284h1v1h-1zM223 284h1v1h-1zM47 285h1v1h-1zM94 285h1v1h-1zM147 285h1v1h-1zM150 285h1v1h-1zM106 286h1v1h-1zM137 286h1v1h-1zM229 286h1v1h-1zM114 287h1v1h-1zM192 287h1v1h-1zM193 287h1v1h-1zM223 287h1v1h-1zM247 287h1v1h-1zM191 288h1v1h-1zM161 289h1v1h-1zM190 289h1v1h-1zM57 291h1v1h-1zM92 291h1v1h-1zM41 292h1v1h-1zM87 292h1v1h-1zM114 292h1v1h-1zM190 292h1v1h-1zM241 292h1v1h-1zM246 292h1v1h-1zM39 293h1v1h-1zM156 293h1v1h-1zM179 293h1v1h-1zM187 293h1v1h-1zM257 293h1v1h-1zM38 294h1v1h-1zM59 294h1v1h-1zM71 294h1v1h-1zM134 294h1v1h-1zM145 294h1v1h-1zM224 294h1v1h-1zM63 295h1v1h-1zM109 295h1v1h-1zM237 295h1v1h-1zM261 295h1v1h-1zM167 296h1v1h-1zM200 296h1v1h-1zM207 296h1v1h-1zM38 297h1v1h-1zM86 297h1v1h-1zM108 297h1v1h-1zM138 297h1v1h-1zM159 297h1v1h-1zM168 297h1v1h-1zM189 297h1v1h-1zM254 297h1v1h-1zM258 297h1v1h-1zM53 298h1v1h-1zM66 298h1v1h-1zM71 298h1v1h-1zM145 298h1v1h-1zM166 298h1v1h-1zM181 298h1v1h-1zM215 298h1v1h-1zM248 298h1v1h-1zM59 299h1v1h-1zM78 299h1v1h-1zM146 299h1v1h-1zM178 299h1v1h-1zM184 299h1v1h-1zM83 300h1v1h-1zM157 300h1v1h-1zM171 300h1v1h-1zM179 300h1v1h-1zM195 300h1v1h-1zM208 300h1v1h-1zM233 300h1v1h-1zM249 300h1v1h-1zM255 300h1v1h-1zM36 301h1v1h-1zM80 301h1v1h-1zM84 301h1v1h-1zM89 301h1v1h-1zM100 301h1v1h-1zM121 301h1v1h-1zM141 301h1v1h-1zM189 301h1v1h-1zM193 301h1v1h-1zM203 301h1v1h-1zM215 301h1v1h-1zM217 301h1v1h-1zM232 301h1v1h-1zM254 301h1v1h-1zM48 302h1v1h-1zM68 302h1v1h-1zM73 302h1v1h-1zM99 302h1v1h-1zM105 302h1v1h-1zM113 302h1v1h-1zM115 302h1v1h-1zM117 302h1v1h-1zM124 302h1v1h-1zM161 302h1v1h-1zM184 302h1v1h-1zM190 302h1v1h-1zM192 302h1v1h-1zM202 302h1v1h-1zM207 302h1v1h-1zM221 302h1v1h-1zM222 302h1v1h-1zM233 302h1v1h-1zM242 302h1v1h-1zM262 302h1v1h-1zM263 302h1v1h-1zM52 303h1v1h-1zM71 303h1v1h-1zM77 303h1v1h-1zM84 303h1v1h-1zM89 303h1v1h-1zM102 303h1v1h-1zM118 303h1v1h-1zM132 303h1v1h-1zM154 303h1v1h-1zM156 303h1v1h-1zM182 303h1v1h-1zM184 303h1v1h-1zM197 303h1v1h-1zM199 303h1v1h-1zM213 303h1v1h-1zM218 303h1v1h-1zM232 303h1v1h-1zM237 303h1v1h-1zM267 303h1v1h-1zM37 304h1v1h-1zM39 304h1v1h-1zM60 304h1v1h-1zM61 304h1v1h-1zM68 304h1v1h-1zM69 304h1v1h-1zM73 304h1v1h-1zM75 304h1v1h-1zM77 304h1v1h-1zM79 304h1v1h-1zM80 304h1v1h-1zM81 304h1v1h-1zM82 304h1v1h-1zM89 304h1v1h-1zM104 304h1v1h-1zM105 304h1v1h-1zM112 304h1v1h-1zM121 304h1v1h-1zM127 304h1v1h-1zM128 304h1v1h-1zM134 304h1v1h-1zM142 304h1v1h-1zM161 304h1v1h-1zM178 304h1v1h-1zM181 304h1v1h-1zM183 304h1v1h-1zM191 304h1v1h-1zM206 304h1v1h-1zM215 304h1v1h-1zM216 304h1v1h-1zM26 305h1v1h-1zM75 305h1v1h-1zM143 305h1v1h-1zM269 305h1v1h-1z" fill="#fac896"/>
<path d="M133 253h1v1h-1zM223 257h1v1h-1zM61 270h1v1h-1zM125 275h1v1h-1zM146 276h1v1h-1zM216 276h1v1h-1zM147 277h1v1h-1zM240 278h1v1h-1zM71 279h1v1h-1zM119 281h1v1h-1zM198 281h1v1h-1zM191 282h1v1h-1zM74 283h1v1h-1zM76 284h1v1h-1zM154 284h1v1h-1zM193 284h1v1h-1zM242 284h1v1h-1zM194 285h1v1h-1zM232 286h1v1h-1zM78 287h1v1h-1zM192 288h1v1h-1zM197 288h1v1h-1zM212 290h1v1h-1zM79 291h1v1h-1zM82 291h1v1h-1zM109 291h1v1h-1zM176 291h1v1h-1zM227 291h1v1h-1zM127 293h1v1h-1zM178 293h1v1h-1zM104 294h1v1h-1zM121 294h1v1h-1zM138 294h1v1h-1zM186 294h1v1h-1zM182 295h1v1h-1zM223 295h1v1h-1zM228 295h1v1h-1zM88 296h1v1h-1zM184 296h1v1h-1zM169 298h1v1h-1zM220 298h1v1h-1zM34 299h1v1h-1zM52 299h1v1h-1zM101 299h1v1h-1zM104 299h1v1h-1zM129 299h1v1h-1zM175 299h1v1h-1zM181 299h1v1h-1zM235 299h1v1h-1zM87 300h1v1h-1zM163 300h1v1h-1zM240 300h1v1h-1zM58 301h1v1h-1zM204 301h1v1h-1zM221 301h1v1h-1zM226 301h1v1h-1zM227 301h1v1h-1zM229 301h1v1h-1zM60 302h1v1h-1zM65 302h1v1h-1zM94 302h1v1h-1zM110 302h1v1h-1zM145 302h1v1h-1zM204 302h1v1h-1zM217 302h1v1h-1zM31 303h1v1h-1zM39 303h1v1h-1zM57 303h1v1h-1zM83 303h1v1h-1zM93 303h1v1h-1zM96 303h1v1h-1zM108 303h1v1h-1zM111 303h1v1h-1zM112 303h1v1h-1zM117 303h1v1h-1zM139 303h1v1h-1zM167 303h1v1h-1zM169 303h1v1h-1zM172 303h1v1h-1zM191 303h1v1h-1zM205 303h1v1h-1zM224 303h1v1h-1zM240 303h1v1h-1zM250 303h1v1h-1zM251 303h1v1h-1zM261 303h1v1h-1zM27 304h1v1h-1zM28 304h1v1h-1zM32 304h1v1h-1zM34 304h1v1h-1zM66 304h1v1h-1zM115 304h1v1h-1zM116 304h1v1h-1zM123 304h1v1h-1zM130 304h1v1h-1zM135 304h1v1h-1zM145 304h1v1h-1zM167 304h1v1h-1zM168 304h1v1h-1zM169 304h1v1h-1zM189 304h1v1h-1zM214 304h1v1h-1zM224 304h1v1h-1zM228 304h1v1h-1zM232 304h1v1h-1zM239 304h1v1h-1zM268 304h1v1h-1zM230 305h1v1h-1z" fill="#f7b87f"/>
<path d="M207 291h1v1h-1zM219 291h1v1h-1zM85 294h1v1h-1zM105 295h1v1h-1zM122 295h1v1h-1zM89 298h1v1h-1zM64 299h1v1h-1zM126 299h1v1h-1zM100 300h1v1h-1zM31 301h1v1h-1zM93 301h1v1h-1zM199 301h1v1h-1zM210 301h1v1h-1zM30 302h1v1h-1zM45 302h1v1h-1zM88 302h1v1h-1zM97 302h1v1h-1zM106 302h1v1h-1zM132 302h1v1h-1zM143 302h1v1h-1zM172 302h1v1h-1zM177 302h1v1h-1zM187 302h1v1h-1zM266 302h1v1h-1zM29 303h1v1h-1zM33 303h1v1h-1zM44 303h1v1h-1zM74 303h1v1h-1zM116 303h1v1h-1zM134 303h1v1h-1zM157 303h1v1h-1zM163 303h1v1h-1zM170 303h1v1h-1zM195 303h1v1h-1zM227 303h1v1h-1zM262 303h1v1h-1zM51 304h1v1h-1zM58 304h1v1h-1zM94 304h1v1h-1zM99 304h1v1h-1zM120 304h1v1h-1zM122 304h1v1h-1zM139 304h1v1h-1zM151 304h1v1h-1zM165 304h1v1h-1zM171 304h1v1h-1zM179 304h1v1h-1zM198 304h1v1h-1zM200 304h1v1h-1zM210 304h1v1h-1zM229 304h1v1h-1zM230 304h1v1h-1zM236 304h1v1h-1zM240 304h1v1h-1zM259 304h1v1h-1zM265 304h1v1h-1z" fill="#f5a868"/>
<path d="M63 272h1v1h-1zM207 273h1v1h-1zM77 278h1v1h-1zM116 284h1v1h-1zM166 286h1v1h-1zM244 290h1v1h-1zM188 292h1v1h-1zM184 295h1v1h-1zM73 296h1v1h-1zM73 297h1v1h-1zM207 298h1v1h-1zM180 300h1v1h-1zM209 300h1v1h-1zM162 301h1v1h-1zM171 301h1v1h-1zM172 301h1v1h-1zM189 302h1v1h-1zM216 302h1v1h-1zM232 302h1v1h-1zM238 302h1v1h-1zM258 302h1v1h-1zM36 303h1v1h-1zM48 303h1v1h-1zM76 303h1v1h-1zM127 303h1v1h-1zM159 303h1v1h-1zM164 303h1v1h-1zM166 303h1v1h-1zM188 303h1v1h-1zM235 303h1v1h-1zM236 303h1v1h-1zM238 303h1v1h-1zM241 303h1v1h-1zM254 303h1v1h-1zM47 304h1v1h-1zM86 304h1v1h-1zM140 304h1v1h-1zM154 304h1v1h-1zM182 304h1v1h-1zM246 304h1v1h-1zM269 304h1v1h-1zM99 305h1v1h-1z" fill="#f29752"/>
<path d="M68 277h1v1h-1zM198 282h1v1h-1zM234 284h1v1h-1zM195 285h1v1h-1zM189 291h1v1h-1zM240 294h1v1h-1zM66 296h1v1h-1zM87 296h1v1h-1zM183 296h1v1h-1zM76 302h1v1h-1zM79 302h1v1h-1zM181 302h1v1h-1zM211 302h1v1h-1zM37 303h1v1h-1zM72 303h1v1h-1zM91 303h1v1h-1zM125 303h1v1h-1zM138 303h1v1h-1zM207 303h1v1h-1zM211 303h1v1h-1zM259 303h1v1h-1zM57 304h1v1h-1zM78 304h1v1h-1zM88 304h1v1h-1zM233 304h1v1h-1zM237 304h1v1h-1z" fill="#ec8643"/>
<path d="M229 289h1v1h-1zM83 292h1v1h-1zM204 295h1v1h-1zM183 297h1v1h-1zM206 297h1v1h-1zM128 301h1v1h-1zM59 302h1v1h-1zM41 303h1v1h-1zM98 303h1v1h-1zM144 303h1v1h-1zM148 303h1v1h-1zM155 303h1v1h-1zM181 303h1v1h-1zM214 303h1v1h-1zM228 303h1v1h-1zM231 303h1v1h-1zM98 304h1v1h-1zM124 304h1v1h-1zM136 304h1v1h-1zM148 304h1v1h-1zM160 304h1v1h-1zM175 304h1v1h-1zM184 304h1v1h-1zM231 304h1v1h-1z" fill="#e67637"/>
<path d="M79 288h1v1h-1zM190 290h1v1h-1zM32 300h1v1h-1zM218 300h1v1h-1zM173 302h1v1h-1zM248 302h1v1h-1zM42 303h1v1h-1zM64 303h1v1h-1zM97 303h1v1h-1zM173 303h1v1h-1zM107 304h1v1h-1zM137 304h1v1h-1zM174 304h1v1h-1z" fill="#df652a"/>
<path d="M135 301h1v1h-1zM252 302h1v1h-1zM94 303h1v1h-1zM264 303h1v1h-1z" fill="#d8561f"/>
<path d="M93 302h1v1h-1zM98 302h1v1h-1zM176 303h1v1h-1zM215 303h1v1h-1zM212 304h1v1h-1z" fill="#d24e1c"/>
<path d="M86 295h1v1h-1zM90 299h1v1h-1zM91 300h1v1h-1zM179 301h1v1h-1zM174 303h1v1h-1zM212 303h1v1h-1z" fill="#cc4619"/>
<path d="M210 270h1v1h-1zM182 297h1v1h-1z" fill="#c63e16"/>
<path d="M77 286h1v1h-1zM213 304h1v1h-1z" fill="#c03613"/>
<path d="M81 290h1v1h-1zM176 304h1v1h-1z" fill="#ba2e10"/>
<path d="M95 304h1v1h-1z" fill="#b4260d"/>
<path d="M150 302h1v1h-1zM177 303h1v1h-1zM96 304h1v1h-1z" fill="#af1e0a"/>
</g>
<path d="M25.1 305.4L149.1 181.4L273 305.4" fill="none" stroke="#6a6a6a" stroke-width="1.05"/>
<line x1="25.1" y1="305.4" x2="273" y2="305.4" stroke="#444" stroke-width="0.9"/>
<circle cx="208" cy="275.8" r="10.8" fill="none" stroke="#e53a3a" stroke-width="0.85"/>
<line x1="40.5" y1="312" x2="88" y2="312" stroke="#3434d8" stroke-width="0.6"/>
<rect x="40.4" y="309.8" width="0.7" height="4.5" fill="#3434d8"/>
<rect x="42.9" y="309.8" width="0.7" height="4.5" fill="#3434d8"/>
<rect x="53.9" y="309.8" width="0.7" height="4.5" fill="#3434d8"/>
<rect x="56.1" y="309.8" width="0.7" height="4.5" fill="#3434d8"/>
<rect x="57.9" y="309.8" width="0.7" height="4.5" fill="#3434d8"/>
<rect x="60" y="309.8" width="0.7" height="4.5" fill="#3434d8"/>
<rect x="61.8" y="309.8" width="0.7" height="4.5" fill="#3434d8"/>
<rect x="64.9" y="309.8" width="0.7" height="4.5" fill="#3434d8"/>
<rect x="67.5" y="309.8" width="0.7" height="4.5" fill="#3434d8"/>
<rect x="70.2" y="309.8" width="0.7" height="4.5" fill="#3434d8"/>
<rect x="74.1" y="309.8" width="0.7" height="4.5" fill="#3434d8"/>
<rect x="76.7" y="309.8" width="0.7" height="4.5" fill="#3434d8"/>
<rect x="78.9" y="309.8" width="0.7" height="4.5" fill="#3434d8"/>
<rect x="80.2" y="309.8" width="0.7" height="4.5" fill="#3434d8"/>
<rect x="86" y="309.8" width="2" height="4.5" fill="#3434d8"/>
<path d="M48 310.9L49 312L48 313.1" fill="none" stroke="#3434d8" stroke-width="0.6"/>
<path d="M82.6 310.9L83.6 312L82.6 313.1" fill="none" stroke="#3434d8" stroke-width="0.6"/>
<line x1="171.2" y1="312" x2="216.6" y2="312" stroke="#3434d8" stroke-width="0.6"/>
<rect x="171" y="309.8" width="0.7" height="4.5" fill="#3434d8"/>
<rect x="176.1" y="309.8" width="0.7" height="4.5" fill="#3434d8"/>
<rect x="179.1" y="309.8" width="0.7" height="4.5" fill="#3434d8"/>
<rect x="180.7" y="309.8" width="0.7" height="4.5" fill="#3434d8"/>
<rect x="195.8" y="309.8" width="0.7" height="4.5" fill="#3434d8"/>
<rect x="197.2" y="309.8" width="0.7" height="4.5" fill="#3434d8"/>
<rect x="199.1" y="309.8" width="0.7" height="4.5" fill="#3434d8"/>
<rect x="204.3" y="309.8" width="0.7" height="4.5" fill="#3434d8"/>
<rect x="206.2" y="309.8" width="0.7" height="4.5" fill="#3434d8"/>
<rect x="212.8" y="309.8" width="0.7" height="4.5" fill="#3434d8"/>
<rect x="216.2" y="309.8" width="0.7" height="4.5" fill="#3434d8"/>
<path d="M174.8 310.9L173.8 312L174.8 313.1" fill="none" stroke="#3434d8" stroke-width="0.6"/>
<path d="M185.3 310.9L184.3 312L185.3 313.1" fill="none" stroke="#3434d8" stroke-width="0.6"/>
<path d="M191.9 310.9L190.9 312L191.9 313.1" fill="none" stroke="#3434d8" stroke-width="0.6"/>
<path d="M202.4 310.9L201.4 312L202.4 313.1" fill="none" stroke="#3434d8" stroke-width="0.6"/>
<path d="M211 310.9L210 312L211 313.1" fill="none" stroke="#3434d8" stroke-width="0.6"/>
<line x1="234" y1="312" x2="238.7" y2="312" stroke="#3434d8" stroke-width="0.6"/>
<rect x="234" y="309.5" width="4.7" height="5" fill="#3434d8"/>
<rect x="235.4" y="309.3" width="0.6" height="5.4" fill="#fff"/>
<text x="62.9" y="327.9" font-size="8.8" text-anchor="middle" font-weight="normal" fill="#111" stroke="#111" >RAD23B</text>
<text x="190.9" y="327.9" font-size="8.8" text-anchor="middle" font-weight="normal" fill="#111" stroke="#111" >LINC01509</text>
<text x="234" y="327.9" font-size="8.8" text-anchor="middle" font-weight="normal" fill="#111" stroke="#111" >KLF4</text>
<line x1="396" y1="30.2" x2="685" y2="30.2" stroke="#d9d9d9" stroke-width="0.8"/>
<path d="M432.2 18.2h0.9v12h-0.9zM456 18.2h0.8v12h-0.8zM461.4 18.2h0.8v12h-0.8zM469 18.2h0.8v12h-0.8zM474.3 18.2h0.9v12h-0.9zM480 18.2h1.3v12h-1.3zM475.2 23.2h1.3v7h-1.3zM481.3 25.2h1.6v5h-1.6zM481.3 27.2h1.8v3h-1.8z" fill="#17989f"/>
<path d="M449.4 18.2h0.8v12h-0.8zM450.9 18.2h0.8v12h-0.8zM452.1 18.2h0.8v12h-0.8zM471.6 18.2h0.8v12h-0.8z" fill="#9fd3d6"/>
<text x="398.8" y="23.4" font-size="6.6" fill="#333" stroke="#333" textLength="18.9" lengthAdjust="spacingAndGlyphs">[0 - 12]</text>
<line x1="396" y1="44.2" x2="685" y2="44.2" stroke="#d9d9d9" stroke-width="0.8"/>
<path d="M432.2 32.2h0.9v12h-0.9zM456 32.2h0.8v12h-0.8zM461.4 32.2h0.8v12h-0.8zM469 32.2h0.8v12h-0.8zM474.3 32.2h0.9v12h-0.9zM480 32.2h1.3v12h-1.3zM475.2 37.2h1.3v7h-1.3zM481.3 39.2h1.6v5h-1.6z" fill="#ec7b3d"/>
<path d="M449.4 32.2h0.8v12h-0.8zM450.9 32.2h0.8v12h-0.8zM452.1 32.2h0.8v12h-0.8zM471.6 32.2h0.8v12h-0.8z" fill="#f7c9ad"/>
<text x="398.8" y="37.4" font-size="6.6" fill="#333" stroke="#333" textLength="18.9" lengthAdjust="spacingAndGlyphs">[0 - 12]</text>
<line x1="396" y1="58.2" x2="685" y2="58.2" stroke="#d9d9d9" stroke-width="0.8"/>
<path d="M432.2 46.2h0.9v12h-0.9zM456 46.2h0.8v12h-0.8zM461.4 46.2h0.8v12h-0.8zM469 46.2h0.8v12h-0.8zM474.3 46.2h0.9v12h-0.9zM480 46.2h1.3v12h-1.3zM475.2 51.2h1.3v7h-1.3zM481.3 53.2h1.6v5h-1.6z" fill="#ec7b3d"/>
<path d="M449.4 46.2h0.8v12h-0.8zM450.9 46.2h0.8v12h-0.8zM452.1 46.2h0.8v12h-0.8zM471.6 46.2h0.8v12h-0.8z" fill="#f7c9ad"/>
<text x="398.8" y="51.4" font-size="6.6" fill="#333" stroke="#333" textLength="18.9" lengthAdjust="spacingAndGlyphs">[0 - 12]</text>
<path d="M639.7 30.2L640.2 27.5L640.6 27L641 27.8L641.7 30.2zM641.6 30.2L642 25.5L642.4 24.7L642.8 26.1L643.4 30.2zM643.1 30.2L643.6 28.9L644.1 28.7L644.6 29.1L645.3 30.2z" fill="#17989f"/>
<path d="M639.1 44.2L639.6 41.2L640 40.7L640.4 41.6L641.1 44.2zM641.5 44.2L642 34.9L642.3 33.2L642.6 36L643.2 44.2zM643.4 44.2L643.9 41.2L644.4 40.7L644.9 41.6L645.6 44.2z" fill="#ec7b3d"/>
<path d="M639.5 58.2L640 56.2L640.5 55.9L641 56.5L641.7 58.2zM641.5 58.2L642 56.2L642.4 55.9L642.8 56.5L643.5 58.2zM643.2 58.2L643.7 57.2L644.2 57L644.7 57.3L645.4 58.2z" fill="#ec7b3d"/>
<path d="M465.5 84.5h1v0.7h-1zM570.9 84.4h0.7v0.8h-0.7zM400.8 83.7h0.9v1.5h-0.9zM464.5 83h1.2v2.2h-1.2zM637.9 84.6h1.4v0.6h-1.4zM440.4 84.3h1.6v0.9h-1.6zM547.7 84.1h1.4v1.1h-1.4zM415.4 84h1.3v1.2h-1.3zM483.8 84.8h1.6v0.4h-1.6zM533.2 84.1h1.7v1.1h-1.7zM602.7 83.4h1.1v1.8h-1.1zM627.7 84.6h1.7v0.6h-1.7zM650.1 84.8h0.8v0.4h-0.8zM459.5 83.2h1.1v2h-1.1zM577.5 84.8h1.2v0.4h-1.2zM508.1 84.7h1.3v0.5h-1.3zM565.3 83.5h1.4v1.7h-1.4zM664.5 83.7h1.8v1.5h-1.8zM590.3 84.8h1.6v0.4h-1.6zM674.8 83.5h1.3v1.7h-1.3zM602.6 84.8h1.6v0.4h-1.6zM562.2 84.8h0.7v0.4h-0.7zM642.9 83.1h0.7v2.1h-0.7zM627.6 84.7h0.8v0.5h-0.8zM481.6 84h1.6v1.2h-1.6zM409.7 84.4h0.7v0.8h-0.7zM603.9 84.7h1.7v0.5h-1.7zM679.4 84.6h1.8v0.6h-1.8zM486.2 84.8h1.3v0.4h-1.3zM406 84.8h1.1v0.4h-1.1zM572.8 84.8h0.7v0.4h-0.7zM646.9 84.7h1.8v0.5h-1.8zM655.2 84.7h1.2v0.5h-1.2zM546.8 84.3h1.3v0.9h-1.3zM558.1 84.4h1.7v0.8h-1.7zM543 84.7h1.5v0.5h-1.5zM465.4 84.8h1.8v0.4h-1.8zM547.1 84.5h0.6v0.7h-0.6zM516.6 84.4h0.6v0.8h-0.6zM574.3 84.3h0.7v0.9h-0.7zM577.7 84.6h1.4v0.6h-1.4zM498.5 84.2h1.5v1h-1.5zM403.4 84.8h1.4v0.4h-1.4zM674.4 84.8h1.1v0.4h-1.1zM567.7 84.7h1v0.5h-1zM487 84.7h1.3v0.5h-1.3zM483.5 84.7h1.5v0.5h-1.5zM404.8 84.5h1.5v0.7h-1.5zM486.3 84.8h1.6v0.4h-1.6zM465.7 84.8h1.1v0.4h-1.1zM598 84.8h1v0.4h-1zM493.1 83.8h1.1v1.4h-1.1zM643.4 84.8h1v0.4h-1zM584.3 83.6h1.1v1.6h-1.1zM461.8 84.8h1.2v0.4h-1.2zM452 83.9h1.6v1.3h-1.6zM449.9 84.8h1.6v0.4h-1.6zM581.9 83.9h1v1.3h-1zM434.4 84.8h1.6v0.4h-1.6zM475.1 84.7h1.1v0.5h-1.1zM517.9 84.7h1.7v0.5h-1.7zM441.9 84.8h1.7v0.4h-1.7zM650.4 83.1h1.1v2.1h-1.1zM670.6 83.4h0.9v1.8h-0.9zM611.7 83.7h1.4v1.5h-1.4zM546.5 84.8h1v0.4h-1zM462.5 84.8h1.3v0.4h-1.3zM479.7 83.8h0.7v1.4h-0.7zM657.2 84.2h1.7v1h-1.7zM655.2 83.5h1.3v1.7h-1.3zM400.8 84.1h0.8v1.1h-0.8zM483.4 84.3h1.2v0.9h-1.2zM516.2 83.3h1.3v1.9h-1.3zM495.3 84.8h1.6v0.4h-1.6zM534.4 83.9h1v1.3h-1zM453.8 84.5h1.6v0.7h-1.6zM446.3 83.9h1.7v1.3h-1.7zM629.1 83.8h0.6v1.4h-0.6zM578 83.6h0.7v1.6h-0.7zM475.2 84.8h1.2v0.4h-1.2z" fill="#17989f"/>
<line x1="396" y1="85.0" x2="685" y2="85.0" stroke="#17989f" stroke-width="0.4" stroke-opacity="0.5"/>
<path d="M396.7 85.2L397.2 80.6L397.6 79.8L398 81.2L398.7 85.2zM421.3 85.2L421.7 82.7L422 82.2L422.3 83L422.9 85.2zM423.4 85.2L423.9 72.5L424.2 70.2L424.5 74L425.1 85.2zM431.3 85.2L431.8 71.6L432.2 69.2L432.6 73.2L433.3 85.2zM432.5 85.2L433 75.9L433.6 74.2L434.2 77L434.9 85.2zM434.9 85.2L435.3 79.6L435.6 78.6L435.9 80.2L436.5 85.2zM438.8 85.2L439.2 83.1L439.5 82.7L439.8 83.3L440.4 85.2zM442.3 85.2L442.7 83.9L443 83.7L443.3 84.1L443.9 85.2zM446.3 85.2L446.7 83.9L447 83.7L447.3 84.1L447.9 85.2zM491.6 85.2L492.1 80.8L492.5 80L492.9 81.3L493.6 85.2zM574.7 85.2L575.1 74.8L575.4 73L575.7 76.1L576.3 85.2zM638.2 85.2L638.6 77.5L639 76.2L639.4 78.5L640 85.2zM642.6 85.2L643.1 76.7L643.4 75.2L643.7 77.7L644.4 85.2zM644.3 85.2L644.7 72.1L645.1 69.8L645.5 73.7L646.1 85.2zM639.5 85.2L640.4 81L642 80.2L643.6 81.5L644.8 85.2zM659.5 85.2L659.9 72.1L660.2 69.8L660.5 73.7L661.1 85.2zM616 85.2L616.5 83.5L617 83.2L617.5 83.7L618.2 85.2zM592 85.2L592.5 83.9L593 83.7L593.5 84.1L594.2 85.2zM455.9 85.2L456.5 83.9L457 83.7L457.5 84.1L458.2 85.2z" fill="#17989f"/>
<path d="M465 103.7h1.1v0.4h-1.1zM441.6 103.7h1.1v0.4h-1.1zM661.4 102.7h1.5v1.4h-1.5zM460.9 103.4h0.9v0.7h-0.9zM446.7 103.7h0.9v0.4h-0.9zM664.1 102.6h1.6v1.5h-1.6zM627.5 103.7h1v0.4h-1zM577.6 102.9h1.6v1.2h-1.6zM650.5 103.7h1.3v0.4h-1.3zM590.5 103.4h0.8v0.7h-0.8zM533.4 103.7h1.7v0.4h-1.7zM646.3 103.4h1v0.7h-1zM658.8 103.3h1.7v0.8h-1.7zM641.2 103.4h1.1v0.7h-1.1zM569.5 103.5h0.8v0.6h-0.8zM484.9 102.6h0.7v1.5h-0.7zM410.3 103.2h0.9v0.9h-0.9zM551 103.5h1v0.6h-1zM684.2 103.7h1.1v0.4h-1.1zM455.4 103.2h0.9v0.9h-0.9zM499.5 102.9h1v1.2h-1zM557.9 102.2h0.7v1.9h-0.7zM414.7 103.7h1.5v0.4h-1.5zM574.2 103.7h1v0.4h-1zM448.1 103.5h0.7v0.6h-0.7zM597.8 102.3h1.7v1.8h-1.7zM608.6 101.9h0.6v2.2h-0.6zM480.2 101.9h1.5v2.2h-1.5zM515.2 102h1.3v2.1h-1.3zM632.6 103.6h0.8v0.5h-0.8zM524.9 103.7h1.1v0.4h-1.1zM674 103.6h0.6v0.5h-0.6zM409.9 103.7h1.5v0.4h-1.5zM501.5 103.7h0.7v0.4h-0.7zM679.7 103.5h0.8v0.6h-0.8zM414.1 103.7h0.8v0.4h-0.8zM591.9 103.7h0.6v0.4h-0.6zM538.3 103.7h1.8v0.4h-1.8zM432.2 103.4h1.5v0.7h-1.5zM514.9 101.8h1.2v2.3h-1.2zM466.7 103.6h0.6v0.5h-0.6zM518.3 103.7h1.7v0.4h-1.7zM636.3 103.5h0.6v0.6h-0.6zM470.3 103.7h0.8v0.4h-0.8zM463.7 102.4h0.8v1.7h-0.8zM411.8 102.1h1.3v2h-1.3zM682.3 103.6h1.7v0.5h-1.7zM585.3 102.7h1.5v1.4h-1.5zM539.4 103.7h0.9v0.4h-0.9zM648.7 102.2h1.7v1.9h-1.7zM493.9 103.1h1.6v1h-1.6zM582 102.6h1.2v1.5h-1.2zM585.6 103.1h0.9v1h-0.9zM662.8 102h0.7v2.1h-0.7zM676.7 101.9h1.4v2.2h-1.4zM409.8 102.2h0.8v1.9h-0.8zM675.9 103.1h0.7v1h-0.7zM445.2 103.2h1.3v0.9h-1.3zM612 102.1h0.9v2h-0.9zM397.9 102.1h0.6v2h-0.6zM649.4 103.7h1.6v0.4h-1.6zM622.5 102.3h1.3v1.8h-1.3zM650.1 103.7h1.4v0.4h-1.4zM492.2 102.3h1.5v1.8h-1.5zM532.8 103.4h0.6v0.7h-0.6zM406.8 103.3h1.2v0.8h-1.2zM646 103.3h0.8v0.8h-0.8zM501.4 102.8h1.2v1.3h-1.2zM400 102.5h1.6v1.6h-1.6zM421.5 103.4h1.1v0.7h-1.1zM623.8 103.6h0.9v0.5h-0.9zM537.2 101.9h0.7v2.2h-0.7zM430 103.2h1.7v0.9h-1.7zM544.6 103.5h1.6v0.6h-1.6zM620.7 103.7h1.7v0.4h-1.7zM453.4 103.6h1.6v0.5h-1.6zM518.7 102.7h0.8v1.4h-0.8zM648.8 103.7h0.8v0.4h-0.8zM539.3 103.6h1.3v0.5h-1.3zM657.4 103h0.6v1.1h-0.6zM486.8 103.4h1.2v0.7h-1.2zM603.1 103.5h0.7v0.6h-0.7zM467.7 102.5h1v1.6h-1zM617.8 101.8h1.4v2.3h-1.4zM591.9 103.2h1v0.9h-1zM659.9 103.5h1.7v0.6h-1.7zM485 102.4h1.5v1.7h-1.5zM573.5 103.5h0.8v0.6h-0.8zM619.1 103.6h1.4v0.5h-1.4zM435.4 103.7h0.8v0.4h-0.8z" fill="#ec7b3d"/>
<line x1="396" y1="103.9" x2="685" y2="103.9" stroke="#ec7b3d" stroke-width="0.4" stroke-opacity="0.5"/>
<path d="M396.6 104.1L397.1 100L397.5 99.3L397.9 100.5L398.6 104.1zM418.8 104.1L419.2 101.5L419.5 101.1L419.8 101.8L420.4 104.1zM422 104.1L422.4 99.8L422.7 99.1L423 100.3L423.6 104.1zM423.8 104.1L424.2 98.8L424.5 97.9L424.8 99.4L425.4 104.1zM431.6 104.1L432.1 91.1L432.5 88.8L432.9 92.6L433.6 104.1zM432.7 104.1L433.2 95.6L433.8 94.1L434.4 96.6L435.1 104.1zM434.9 104.1L435.3 100.4L435.6 99.8L435.9 100.9L436.5 104.1zM491.6 104.1L492.1 100.4L492.5 99.8L492.9 100.9L493.6 104.1zM574.7 104.1L575.1 98.8L575.4 97.9L575.7 99.4L576.3 104.1zM638.6 104.1L639 99.8L639.3 99.1L639.6 100.3L640.2 104.1zM642.6 104.1L643.1 97.3L643.4 96.1L643.7 98.1L644.4 104.1zM644.8 104.1L645.2 93.9L645.6 92.1L646 95.1L646.6 104.1zM639.5 104.1L640.4 100.7L642 100.1L643.6 101.1L644.8 104.1zM659.8 104.1L660.2 92.4L660.5 90.3L660.8 93.8L661.5 104.1zM616.6 104.1L617.1 102L617.5 101.6L617.9 102.2L618.6 104.1zM448.9 104.1L449.5 102.8L450 102.6L450.5 103L451.2 104.1zM522 104.1L522.5 102.8L523 102.6L523.5 103L524.2 104.1z" fill="#ec7b3d"/>
<text x="396.2" y="71.9" font-size="6.6" fill="#333" stroke="#333" textLength="18.9" lengthAdjust="spacingAndGlyphs">[0 - 50]</text>
<text x="396.2" y="94.1" font-size="6.6" fill="#333" stroke="#333" textLength="18.9" lengthAdjust="spacingAndGlyphs">[0 - 50]</text>
<line x1="396" y1="123.8" x2="685" y2="123.8" stroke="#d9d9d9" stroke-width="0.8"/>
<path d="M657.8 122.8h1.5v0.7h-1.5zM657.5 123.1h1.4v0.4h-1.4zM657.6 122.6h1.3v0.9h-1.3zM445.8 123h1.8v0.5h-1.8zM426.7 123.1h1.7v0.4h-1.7zM526.4 123.1h1v0.4h-1zM658.7 123.1h1.1v0.4h-1.1zM577.8 122.7h1.2v0.8h-1.2zM420.5 122.9h0.6v0.6h-0.6zM424.2 123.1h1.4v0.4h-1.4zM478.6 122.8h0.8v0.7h-0.8zM430.9 123.1h1.4v0.4h-1.4z" fill="#17989f"/>
<path d="M422.6 123.5L423.1 122L423.6 121.7L424.1 122.2L424.9 123.5zM432.1 123.5L432.6 118.7L433 117.9L433.4 119.3L434.1 123.5zM491.4 123.5L491.9 111.7L492.3 109.6L492.7 113.1L493.4 123.5zM574.6 123.5L575.1 113L575.4 111.1L575.7 114.2L576.4 123.5zM577.6 123.5L578.1 119.4L578.4 118.7L578.7 119.9L579.4 123.5zM635.2 123.5L635.6 120.4L635.9 119.9L636.2 120.8L636.8 123.5zM638.7 123.5L639.1 119.8L639.4 119.1L639.7 120.2L640.3 123.5zM643.1 123.5L643.7 120.7L644.5 120.2L645.3 121L646.1 123.5zM658.8 123.5L659.3 122.7L659.8 122.5L660.3 122.8L661 123.5z" fill="#17989f"/>
<text x="396.2" y="114.4" font-size="6.6" fill="#333" stroke="#333" textLength="21.5" lengthAdjust="spacingAndGlyphs">[0 - 200]</text>
<line x1="396" y1="142.5" x2="685" y2="142.5" stroke="#d9d9d9" stroke-width="0.8"/>
<path d="M444.5 141.5h1.4v0.7h-1.4zM535 141.8h1.6v0.4h-1.6zM629.7 141.7h1.2v0.5h-1.2zM465 141.8h1v0.4h-1zM565.6 141.8h1.6v0.4h-1.6zM463.9 141.8h0.7v0.4h-0.7zM684.3 141.5h1.7v0.7h-1.7zM574.4 141.8h1v0.4h-1zM540.3 141.8h1.7v0.4h-1.7zM503.1 141.8h1.6v0.4h-1.6zM433 141.2h1.1v1h-1.1zM556 141.8h1.2v0.4h-1.2z" fill="#ec7b3d"/>
<path d="M422.7 142.2L423.2 141.3L423.6 141.2L424 141.4L424.7 142.2zM432.1 142.2L432.6 138.7L433 138.1L433.4 139.1L434.1 142.2zM443.7 142.2L444.1 141.5L444.4 141.4L444.7 141.6L445.3 142.2zM448.7 142.2L449.1 141.5L449.4 141.4L449.7 141.6L450.3 142.2zM491.4 142.2L491.9 134.2L492.3 132.8L492.7 135.1L493.4 142.2zM574.6 142.2L575.1 135.1L575.4 133.9L575.7 136L576.4 142.2zM577.7 142.2L578.1 140.3L578.4 140L578.7 140.5L579.3 142.2zM635.3 142.2L635.7 140.5L636 140.2L636.3 140.7L636.9 142.2zM638.7 142.2L639.1 140.5L639.4 140.2L639.7 140.7L640.3 142.2zM642.9 142.2L643.5 140.5L644.3 140.2L645.1 140.7L645.9 142.2zM658.8 142.2L659.3 140.9L659.8 140.7L660.3 141.1L661 142.2z" fill="#ec7b3d"/>
<text x="396.2" y="131.5" font-size="6.6" fill="#333" stroke="#333" textLength="21.5" lengthAdjust="spacingAndGlyphs">[0 - 200]</text>
<line x1="396" y1="161.8" x2="685" y2="161.8" stroke="#d9d9d9" stroke-width="0.8"/>
<path d="M673 161.1h0.6v0.4h-0.6zM684.6 161.1h0.7v0.4h-0.7zM584.6 161.1h1.7v0.4h-1.7zM463.7 160.4h1v1.1h-1zM570.1 160.5h1.4v1h-1.4zM663.1 160.8h0.7v0.7h-0.7zM650.8 160.9h1v0.6h-1zM451.8 160.6h1.3v0.9h-1.3zM667.1 160.7h1.8v0.8h-1.8zM560.1 160.8h1.3v0.7h-1.3z" fill="#17989f"/>
<path d="M432.1 161.5L432.6 155.8L433 154.8L433.4 156.5L434.1 161.5zM422.9 161.5L423.3 160.7L423.6 160.5L423.9 160.8L424.5 161.5zM491.4 161.5L491.9 158L492.3 157.4L492.7 158.4L493.4 161.5zM548.6 161.5L549 160.7L549.3 160.5L549.6 160.8L550.2 161.5zM574.6 161.5L575.1 149L575.4 146.8L575.7 150.5L576.4 161.5zM577.6 161.5L578.1 160.2L578.4 160L578.7 160.4L579.4 161.5zM635.3 161.5L635.7 159.8L636 159.5L636.3 160L636.9 161.5zM638.7 161.5L639.1 155.5L639.4 154.4L639.7 156.2L640.3 161.5zM644.8 161.5L645.2 151.8L645.5 150.1L645.8 152.9L646.5 161.5zM642.6 161.5L643.2 158.1L644 157.5L644.8 158.5L645.6 161.5zM659 161.5L659.5 157.4L659.8 156.7L660.1 157.9L660.8 161.5z" fill="#17989f"/>
<text x="396.2" y="150.4" font-size="6.6" fill="#333" stroke="#333" textLength="21.5" lengthAdjust="spacingAndGlyphs">[0 - 600]</text>
<line x1="396" y1="181" x2="685" y2="181" stroke="#d9d9d9" stroke-width="0.8"/>
<path d="M663.4 179.8h1.7v0.9h-1.7zM421.1 180.2h1.1v0.5h-1.1zM549.7 180.3h0.8v0.4h-0.8zM525 180.3h1.1v0.4h-1.1zM404.1 180.3h1.5v0.4h-1.5zM518.3 180.2h1.5v0.5h-1.5zM500.4 180.3h1.5v0.4h-1.5zM566.7 180.1h1.3v0.6h-1.3z" fill="#ec7b3d"/>
<path d="M432.1 180.7L432.6 178.4L433 178L433.4 178.7L434.1 180.7zM491.6 180.7L492 179.4L492.3 179.2L492.6 179.6L493.2 180.7zM574.6 180.7L575.1 173.8L575.4 172.6L575.7 174.6L576.4 180.7zM577.7 180.7L578.1 179.8L578.4 179.7L578.7 179.9L579.3 180.7zM635.3 180.7L635.7 179.4L636 179.2L636.3 179.6L636.9 180.7zM638.7 180.7L639.1 178.4L639.4 178L639.7 178.7L640.3 180.7zM644.6 180.7L645.1 176.2L645.5 175.4L645.9 176.7L646.6 180.7zM642.6 180.7L643.2 179L644 178.7L644.8 179.2L645.6 180.7zM659 180.7L659.5 179.3L659.8 179L660.1 179.4L660.8 180.7z" fill="#ec7b3d"/>
<text x="396.2" y="169.4" font-size="6.6" fill="#333" stroke="#333" textLength="21.5" lengthAdjust="spacingAndGlyphs">[0 - 600]</text>
<line x1="396" y1="200.5" x2="685" y2="200.5" stroke="#d9d9d9" stroke-width="0.8"/>
<path d="M602.2 199.1h0.8v1.1h-0.8zM684.5 199.8h1.4v0.4h-1.4zM423.4 199.3h0.8v0.9h-0.8zM600.5 199.3h1.5v0.9h-1.5zM524.1 199h1.8v1.2h-1.8zM430.3 199.6h1.7v0.6h-1.7zM609.9 199.7h1v0.5h-1zM671.5 199.8h1.5v0.4h-1.5zM639.9 199.8h1v0.4h-1zM484.9 199.6h1v0.6h-1zM654.4 198.9h1v1.3h-1zM654.7 199.8h0.7v0.4h-0.7zM588.6 199.2h1.6v1h-1.6zM682.7 199h0.9v1.2h-0.9zM610.9 198.9h0.7v1.3h-0.7zM539.4 199.8h0.8v0.4h-0.8zM535.1 199.4h1.8v0.8h-1.8zM434.8 199.6h1.8v0.6h-1.8zM617.3 199.6h0.9v0.6h-0.9zM578.7 199.8h1.4v0.4h-1.4zM583.8 199.7h1.6v0.5h-1.6zM513.2 199.7h1.6v0.5h-1.6zM469.2 199.8h1.3v0.4h-1.3zM522.2 199h0.9v1.2h-0.9zM503.9 199.8h1.1v0.4h-1.1zM487 199.7h1.5v0.5h-1.5zM407.8 198.6h1.5v1.6h-1.5zM630.7 199.6h1.3v0.6h-1.3zM515 199.7h0.9v0.5h-0.9zM484.3 199.8h1v0.4h-1zM658.3 199.2h1.4v1h-1.4zM402 199.8h1.3v0.4h-1.3zM596.3 199.7h1.4v0.5h-1.4zM657.7 199.8h1.1v0.4h-1.1zM616 199.8h1.5v0.4h-1.5zM511.4 199.8h1.2v0.4h-1.2zM416.6 199.2h1.6v1h-1.6zM549.5 198.9h0.9v1.3h-0.9zM525.4 199.8h0.7v0.4h-0.7zM634.4 199.8h1.7v0.4h-1.7zM557.3 199.4h0.7v0.8h-0.7zM658.3 199.2h0.7v1h-0.7zM449.7 199.8h1.2v0.4h-1.2zM419.7 199.2h1.2v1h-1.2zM599.8 199.8h1.4v0.4h-1.4z" fill="#17989f"/>
<path d="M431.9 200.2L432.4 190.5L432.7 188.8L433 191.6L433.7 200.2zM404.9 200.2L405.3 198.5L405.6 198.2L405.9 198.7L406.5 200.2zM638.7 200.2L639.1 197.6L639.4 197.2L639.7 197.9L640.3 200.2zM640 200.2L640.5 198.9L641 198.7L641.5 199.1L642.2 200.2zM644.6 200.2L645 192.5L645.3 191.2L645.6 193.4L646.2 200.2zM643 200.2L643.5 197.6L644 197.2L644.5 197.9L645.2 200.2zM659.2 200.2L659.6 197.6L659.9 197.2L660.2 197.9L660.8 200.2zM656.3 200.2L656.7 198.9L657 198.7L657.3 199.1L657.9 200.2z" fill="#17989f"/>
<text x="396.2" y="189.1" font-size="6.6" fill="#333" stroke="#333" textLength="18.9" lengthAdjust="spacingAndGlyphs">[0 - 20]</text>
<line x1="396" y1="219.5" x2="685" y2="219.5" stroke="#d9d9d9" stroke-width="0.8"/>
<path d="M505.6 217.8h1.6v1.4h-1.6zM458.6 218h1.4v1.2h-1.4zM409.2 217.8h0.9v1.4h-0.9zM485.1 218.7h1.3v0.5h-1.3zM432.8 218.4h1.6v0.8h-1.6zM544.5 218.2h1.3v1h-1.3zM634.5 218.8h1v0.4h-1zM532.2 218.8h1.8v0.4h-1.8zM580.2 218.8h1.3v0.4h-1.3zM516.4 218.8h0.8v0.4h-0.8zM529.7 218.8h1.3v0.4h-1.3zM545.3 218.8h1.7v0.4h-1.7zM408.7 218.8h1.6v0.4h-1.6zM460.6 218.7h1.3v0.5h-1.3zM522.4 218.7h1.2v0.5h-1.2zM536 218.8h1.6v0.4h-1.6zM478.5 218.8h1.1v0.4h-1.1zM631.6 218.5h1.1v0.7h-1.1zM534.7 218.8h1.3v0.4h-1.3zM497.9 218.8h0.8v0.4h-0.8zM423.7 218.4h1.7v0.8h-1.7zM614.6 218.8h0.8v0.4h-0.8zM670.8 218.7h0.8v0.5h-0.8zM561.6 218.5h1.2v0.7h-1.2zM527.2 218.8h1.2v0.4h-1.2zM528.8 218.4h1.1v0.8h-1.1zM499.2 217.6h0.7v1.6h-0.7zM614.6 218.7h1.6v0.5h-1.6zM601 218.6h1.3v0.6h-1.3zM463.1 218.8h1.5v0.4h-1.5z" fill="#ec7b3d"/>
<path d="M405.7 219.2L406.1 217.5L406.4 217.2L406.7 217.7L407.3 219.2zM422.2 219.2L422.7 216.6L423.1 216.2L423.5 216.9L424.2 219.2zM420.3 219.2L420.7 217.9L421 217.7L421.3 218.1L421.9 219.2zM443.7 219.2L444.1 216.6L444.4 216.2L444.7 216.9L445.3 219.2zM453.3 219.2L453.7 217.9L454 217.7L454.3 218.1L454.9 219.2zM491.6 219.2L492 216.6L492.3 216.2L492.6 216.9L493.2 219.2zM492.9 219.2L493.5 217.9L494 217.7L494.5 218.1L495.2 219.2zM529.6 219.2L530 216.6L530.3 216.2L530.6 216.9L531.2 219.2zM531 219.2L531.5 217.9L532 217.7L532.5 218.1L533.2 219.2zM586.6 219.2L587 217.5L587.3 217.2L587.6 217.7L588.2 219.2zM643.6 219.2L644 215.8L644.3 215.2L644.6 216.2L645.2 219.2zM641 219.2L641.5 217.9L642 217.7L642.5 218.1L643.2 219.2zM655.7 219.2L656.1 216.6L656.4 216.2L656.7 216.9L657.3 219.2zM663.1 219.2L663.6 217.5L664 217.2L664.4 217.7L665.1 219.2zM673.7 219.2L674.1 217.5L674.4 217.2L674.7 217.7L675.3 219.2z" fill="#ec7b3d"/>
<text x="396.2" y="208.1" font-size="6.6" fill="#333" stroke="#333" textLength="18.9" lengthAdjust="spacingAndGlyphs">[0 - 20]</text>
<line x1="396" y1="238.8" x2="685" y2="238.8" stroke="#d9d9d9" stroke-width="0.8"/>
<path d="M612.2 238.1h0.8v0.4h-0.8zM570 238.1h1.5v0.4h-1.5zM617.2 238.1h1.4v0.4h-1.4zM541.8 237.8h1.7v0.7h-1.7zM681.2 238h1.6v0.5h-1.6zM623.5 237.2h0.6v1.3h-0.6zM667.1 238.1h0.8v0.4h-0.8zM569.1 237.5h1.7v1h-1.7zM501.9 237.5h0.6v1h-0.6zM675.9 238.1h1.3v0.4h-1.3zM432.8 238.1h0.6v0.4h-0.6zM569.8 237.9h1.6v0.6h-1.6zM642.1 238h1.6v0.5h-1.6zM454.8 237.4h0.9v1.1h-0.9zM667.6 238h1.1v0.5h-1.1zM546.3 238.1h0.7v0.4h-0.7zM553.9 237.7h0.7v0.8h-0.7zM514.1 238h1.5v0.5h-1.5zM682.2 238.1h1.3v0.4h-1.3zM427 237.6h1.7v0.9h-1.7zM600.5 237.9h0.6v0.6h-0.6zM424.7 238.1h0.7v0.4h-0.7zM435.5 237.2h1v1.3h-1zM658.2 237.7h1.5v0.8h-1.5zM659.9 237.8h1v0.7h-1zM532.3 238h0.6v0.5h-0.6zM409.7 237.9h1.2v0.6h-1.2zM677.1 237.9h1.6v0.6h-1.6zM534.2 237.9h1.6v0.6h-1.6zM406.8 238.1h1.1v0.4h-1.1zM481.2 238h0.7v0.5h-0.7zM445.6 238.1h1.3v0.4h-1.3zM406.5 238.1h1.4v0.4h-1.4zM518.9 238.1h1.7v0.4h-1.7zM538.3 237.3h1.4v1.2h-1.4zM554.5 238h0.7v0.5h-0.7zM675.2 238h1v0.5h-1zM438.9 237.9h1.8v0.6h-1.8zM512.7 237.6h1.4v0.9h-1.4zM545.4 237.8h1.5v0.7h-1.5zM664.4 238.1h0.8v0.4h-0.8zM466.8 238.1h0.9v0.4h-0.9zM522.4 238.1h1.2v0.4h-1.2zM398.9 237.3h1.5v1.2h-1.5zM426.8 238.1h1.5v0.4h-1.5zM438.1 237.7h0.6v0.8h-0.6zM576.1 237.8h1.2v0.7h-1.2zM625.8 237.3h1.8v1.2h-1.8zM412.3 238h0.7v0.5h-0.7zM611.3 238.1h0.8v0.4h-0.8zM414.1 238.1h0.9v0.4h-0.9zM453.2 238h1.6v0.5h-1.6zM604.7 238.1h0.9v0.4h-0.9zM621.3 238.1h1.4v0.4h-1.4zM676.5 237.9h1.2v0.6h-1.2zM411.1 238.1h1.7v0.4h-1.7zM413.4 238.1h1.3v0.4h-1.3zM485.6 237.9h0.9v0.6h-0.9zM460.3 238.1h1.5v0.4h-1.5zM596.9 238.1h1.5v0.4h-1.5z" fill="#17989f"/>
<path d="M431.6 238.5L432.1 225.1L432.7 222.7L433.3 226.7L434 238.5zM433.8 238.5L434.3 234.2L434.8 233.5L435.3 234.8L436.1 238.5zM422.1 238.5L422.6 236.8L423 236.5L423.4 237L424.1 238.5zM644.4 238.5L644.9 228L645.3 226.1L645.7 229.2L646.4 238.5zM640.8 238.5L641.7 232.6L643 231.5L644.3 233.2L645.4 238.5zM659 238.5L659.5 233.1L659.8 232.2L660.1 233.8L660.8 238.5zM602 238.5L602.5 237.2L603 237L603.5 237.4L604.2 238.5z" fill="#17989f"/>
<text x="396.2" y="227.1" font-size="6.6" fill="#333" stroke="#333" textLength="21.5" lengthAdjust="spacingAndGlyphs">[0 - 200]</text>
<line x1="396" y1="257.5" x2="685" y2="257.5" stroke="#d9d9d9" stroke-width="0.8"/>
<path d="M583.8 256.5h1.7v0.7h-1.7zM453.6 256.8h1.6v0.4h-1.6zM492.9 256.8h1.6v0.4h-1.6zM449.8 256.2h1.2v1h-1.2zM417.5 256.2h1.3v1h-1.3zM419.7 256.3h1.5v0.9h-1.5zM610.2 256.6h1.8v0.6h-1.8zM400.5 256.1h1.4v1.1h-1.4zM469.8 256.6h1v0.6h-1zM584.3 256.5h1.2v0.7h-1.2zM425.4 256.8h1v0.4h-1zM612.8 256.2h1.5v1h-1.5zM549.8 256.8h1.4v0.4h-1.4zM473.3 256h0.8v1.2h-0.8zM675.9 256.8h1.5v0.4h-1.5zM496.8 256.6h1.1v0.6h-1.1zM485.7 256.7h1.6v0.5h-1.6zM498.6 256.8h1.5v0.4h-1.5zM448.2 256.8h1.2v0.4h-1.2zM546 256.8h1.5v0.4h-1.5zM537.9 256.8h1v0.4h-1zM413.5 256.8h0.7v0.4h-0.7zM470.3 256.7h1.4v0.5h-1.4zM483.3 256.7h1.2v0.5h-1.2zM565.7 256.2h0.9v1h-0.9z" fill="#ec7b3d"/>
<path d="M431.7 257.2L432.2 250.1L432.7 248.9L433.2 251L433.9 257.2zM644.4 257.2L644.9 252.7L645.3 251.9L645.7 253.2L646.4 257.2zM641.7 257.2L642.5 254.6L643.5 254.2L644.5 254.9L645.5 257.2zM659 257.2L659.5 254.6L659.8 254.2L660.1 254.9L660.8 257.2z" fill="#ec7b3d"/>
<text x="396.2" y="247" font-size="6.6" fill="#333" stroke="#333" textLength="21.5" lengthAdjust="spacingAndGlyphs">[0 - 200]</text>
<line x1="396" y1="276.4" x2="685" y2="276.4" stroke="#d9d9d9" stroke-width="0.8"/>
<path d="M429.5 275.7h1.3v0.4h-1.3zM448.3 275.7h1.2v0.4h-1.2zM517.3 275.7h1.1v0.4h-1.1zM639.6 275.7h0.8v0.4h-0.8zM405 275.7h0.7v0.4h-0.7zM680.6 275.7h1.8v0.4h-1.8zM434.3 274.7h1.2v1.4h-1.2zM595.9 275.3h0.9v0.8h-0.9zM464 275.3h0.8v0.8h-0.8zM400.8 275.1h1.4v1h-1.4zM471.9 275.5h1.7v0.6h-1.7zM477.3 275.7h1.1v0.4h-1.1zM445.3 275.6h0.6v0.5h-0.6zM617 275h1v1.1h-1zM505.7 275.7h1.7v0.4h-1.7zM649.8 275.3h0.8v0.8h-0.8zM446.6 275.1h0.8v1h-0.8zM595.3 275.6h0.6v0.5h-0.6zM453.9 274.6h1v1.5h-1zM591.3 275.1h1.1v1h-1.1zM540.7 274.8h1.5v1.3h-1.5zM547 275.5h1.1v0.6h-1.1zM519.8 275.3h0.9v0.8h-0.9zM646.3 275.7h0.9v0.4h-0.9zM674.5 275.7h1.1v0.4h-1.1zM556.1 275.6h1.6v0.5h-1.6zM591 275.5h0.6v0.6h-0.6zM680.6 275.6h1v0.5h-1zM460.2 275.7h0.7v0.4h-0.7zM434.8 275.3h1v0.8h-1zM544.1 275.3h0.7v0.8h-0.7zM615.9 275.7h1.6v0.4h-1.6zM652.7 275.6h1v0.5h-1zM542.7 274.7h1.8v1.4h-1.8zM603.2 275.6h1.1v0.5h-1.1zM597.8 275.6h1.5v0.5h-1.5zM495.5 275.4h1.2v0.7h-1.2zM548.3 274.9h1.7v1.2h-1.7zM621.9 275.3h1.1v0.8h-1.1zM509.9 275.6h1.6v0.5h-1.6zM608.9 275.7h0.9v0.4h-0.9zM414.8 275.7h1.6v0.4h-1.6zM577.5 275.7h1.5v0.4h-1.5zM574.6 275.5h0.6v0.6h-0.6zM401.8 275.7h1.7v0.4h-1.7zM514.8 275.7h1.6v0.4h-1.6zM536.3 275.6h1.1v0.5h-1.1zM456.6 275.7h1.5v0.4h-1.5zM651.4 275.6h1.3v0.5h-1.3zM647.2 275.7h1.8v0.4h-1.8zM430.3 275.6h0.7v0.5h-0.7zM455 275.7h0.9v0.4h-0.9zM527 275.3h1.2v0.8h-1.2zM609.9 274.5h0.9v1.6h-0.9zM500.5 275.4h0.8v0.7h-0.8zM408.1 274.9h1.2v1.2h-1.2zM504.2 275.3h0.9v0.8h-0.9zM504 275.7h1.1v0.4h-1.1zM488.7 275.5h1.6v0.6h-1.6zM623 275.3h1.3v0.8h-1.3zM645.5 275.7h1.7v0.4h-1.7zM443.3 274.7h1.2v1.4h-1.2zM599.7 274.4h0.6v1.7h-0.6zM488.6 275.7h1v0.4h-1zM469.4 275.3h1.6v0.8h-1.6zM471.5 275.6h0.7v0.5h-0.7zM420.7 275.7h0.7v0.4h-0.7zM639.2 275.7h1.4v0.4h-1.4zM617.7 275.7h1.1v0.4h-1.1zM578 275.6h1.3v0.5h-1.3zM419.1 274.8h1.8v1.3h-1.8zM675.1 275h1.3v1.1h-1.3zM459.4 275.7h1.1v0.4h-1.1zM453.9 275.4h1.7v0.7h-1.7zM475.3 275.4h0.9v0.7h-0.9zM675.3 275.3h1.3v0.8h-1.3zM544.8 275.7h1.7v0.4h-1.7zM536.7 274.5h1.5v1.6h-1.5zM653.7 275.7h1.4v0.4h-1.4zM570.4 275.7h1.6v0.4h-1.6zM482.2 275.6h0.6v0.5h-0.6zM507.2 275.7h0.9v0.4h-0.9zM635.3 275.7h1.5v0.4h-1.5zM484.7 275.4h1.6v0.7h-1.6zM468.5 275.7h1.7v0.4h-1.7zM491.3 275h0.9v1.1h-0.9zM675.5 274.6h0.9v1.5h-0.9zM639.1 275.7h1.6v0.4h-1.6zM407.8 275.6h0.6v0.5h-0.6zM644.1 275.7h1.3v0.4h-1.3zM622.6 275.7h1.4v0.4h-1.4zM585.9 275.4h0.9v0.7h-0.9zM499.8 275.5h1.6v0.6h-1.6zM433.3 275.2h0.7v0.9h-0.7zM472.1 275.7h0.7v0.4h-0.7zM584.6 274.4h1.6v1.7h-1.6zM552.7 274.4h0.6v1.7h-0.6zM484.5 275.7h1.3v0.4h-1.3zM660.6 275.6h1.2v0.5h-1.2zM483.1 275.6h0.7v0.5h-0.7zM575.9 275.1h1.6v1h-1.6zM634.7 275.2h1.2v0.9h-1.2zM644.3 275.3h1.4v0.8h-1.4zM555.7 274.6h1.4v1.5h-1.4zM647.4 275.5h0.8v0.6h-0.8zM550 274.7h0.7v1.4h-0.7zM675.7 275.3h1.1v0.8h-1.1zM505.7 275.5h1.6v0.6h-1.6zM553 275.7h1.1v0.4h-1.1zM428 275.2h1.6v0.9h-1.6zM505.1 274.4h1.7v1.7h-1.7zM631.7 275.2h0.7v0.9h-0.7zM414.9 275.7h0.8v0.4h-0.8zM591.6 274.8h1.8v1.3h-1.8zM541.5 275.3h0.9v0.8h-0.9zM510.2 275.2h1.7v0.9h-1.7zM601.1 275.3h1.5v0.8h-1.5zM440.7 275.7h0.8v0.4h-0.8zM684 275.7h0.8v0.4h-0.8zM400.7 275.7h1v0.4h-1zM475.3 275.7h0.7v0.4h-0.7zM422.8 275.7h1.2v0.4h-1.2zM588 275h1.3v1.1h-1.3zM401.4 275.7h1.3v0.4h-1.3zM497.5 274.5h1.3v1.6h-1.3zM662 275.7h0.8v0.4h-0.8zM446.4 274.4h1.3v1.7h-1.3zM561.5 275.3h0.7v0.8h-0.7zM531.3 275.5h0.7v0.6h-0.7zM443.2 275.7h1v0.4h-1zM404.6 275.7h1.6v0.4h-1.6zM626.4 275.7h1.6v0.4h-1.6zM426 275.5h1.1v0.6h-1.1zM442.1 275.6h1v0.5h-1zM417.3 274.9h1.5v1.2h-1.5zM499.1 275.5h0.8v0.6h-0.8zM614.3 274.9h1.1v1.2h-1.1zM515.8 275.5h1.4v0.6h-1.4zM672 274.7h1.8v1.4h-1.8zM493.4 274.9h1.1v1.2h-1.1zM479.2 275.6h0.8v0.5h-0.8zM412.4 274.4h1.7v1.7h-1.7zM482 275h0.8v1.1h-0.8zM640.8 275.7h1.1v0.4h-1.1zM431.5 274.5h0.9v1.6h-0.9zM679.2 275.3h0.8v0.8h-0.8zM484.4 275.5h1.7v0.6h-1.7zM671 275.7h1.1v0.4h-1.1zM565.7 275.7h1v0.4h-1zM573.6 274.7h0.7v1.4h-0.7zM573.8 275.7h1v0.4h-1zM639.4 275.1h0.7v1h-0.7zM560.4 275.5h0.7v0.6h-0.7zM681 275.7h1.8v0.4h-1.8zM414 274.7h0.8v1.4h-0.8zM536.7 275.7h0.6v0.4h-0.6zM486.7 275.1h1.6v1h-1.6zM536.6 275.3h1.3v0.8h-1.3zM669.4 275.4h0.7v0.7h-0.7zM524.5 275.5h1.1v0.6h-1.1zM649.9 275.7h1.7v0.4h-1.7zM680.5 275h1.7v1.1h-1.7zM670.8 275.5h1.2v0.6h-1.2zM518.9 274.6h1.6v1.5h-1.6zM653.8 274.4h1.6v1.7h-1.6zM461.8 275.7h0.8v0.4h-0.8zM588.8 275.7h1v0.4h-1zM444.5 274.8h1.1v1.3h-1.1zM411 275.7h1.4v0.4h-1.4zM578.5 274.5h0.9v1.6h-0.9z" fill="#17989f"/>
<path d="M431.4 276.1L432 274.4L432.5 274.1L433 274.6L433.8 276.1z" fill="#17989f"/>
<text x="396.2" y="266.7" font-size="6.6" fill="#333" stroke="#333" textLength="21.5" lengthAdjust="spacingAndGlyphs">[0 - 100]</text>
<line x1="396" y1="295.5" x2="685" y2="295.5" stroke="#d9d9d9" stroke-width="0.8"/>
<path d="M554.9 294.8h1.6v0.4h-1.6zM480.1 294.6h1v0.6h-1zM516.7 293.7h0.7v1.5h-0.7zM525.1 294.8h1v0.4h-1zM684.6 294.8h1.3v0.4h-1.3zM517.8 294.3h1.1v0.9h-1.1zM446.1 294.7h1.1v0.5h-1.1zM625.3 294.6h0.8v0.6h-0.8zM591.1 294.8h1.2v0.4h-1.2zM460.3 294.7h1.5v0.5h-1.5zM545.5 294.3h1.5v0.9h-1.5zM566.1 294.5h1.1v0.7h-1.1zM575 294.2h0.7v1h-0.7zM667 294.7h0.8v0.5h-0.8zM440.2 294.8h0.7v0.4h-0.7zM511.6 294.7h1.4v0.5h-1.4zM531.4 293.8h1.4v1.4h-1.4zM489.5 294h1.4v1.2h-1.4zM675.6 294.3h1.8v0.9h-1.8zM456.1 294.8h1.8v0.4h-1.8zM403.3 293.9h1.7v1.3h-1.7zM436.1 294.8h1.7v0.4h-1.7zM673.4 294h1.5v1.2h-1.5zM615.8 294.8h0.6v0.4h-0.6zM577.8 294h1.7v1.2h-1.7zM545.3 294.8h0.8v0.4h-0.8zM526.3 294.8h0.6v0.4h-0.6zM452.5 294.7h0.8v0.5h-0.8zM429.5 294.8h0.6v0.4h-0.6zM622.7 294h0.8v1.2h-0.8zM579.6 294h0.9v1.2h-0.9zM493 294h1.5v1.2h-1.5zM575.9 294.2h1.3v1h-1.3zM487.7 294.4h1.5v0.8h-1.5zM413 294.8h1v0.4h-1zM652.3 294.8h1.4v0.4h-1.4zM522.2 294.7h1.2v0.5h-1.2zM654.8 294.5h1.1v0.7h-1.1zM440.3 294.8h1.2v0.4h-1.2zM583.1 293.6h1v1.6h-1zM667.7 293.9h1.1v1.3h-1.1zM461 294.8h1.7v0.4h-1.7zM447 294.5h1.4v0.7h-1.4zM445.2 294.8h1.4v0.4h-1.4zM412.2 294.6h1.8v0.6h-1.8zM530.5 294.8h0.7v0.4h-0.7zM483.9 294.8h0.7v0.4h-0.7zM599.3 294.5h1.5v0.7h-1.5zM427.9 294.8h1.7v0.4h-1.7zM399.5 294.7h1.6v0.5h-1.6zM462.9 294.8h1.4v0.4h-1.4zM469.5 294.8h1.1v0.4h-1.1zM483 294.5h1.5v0.7h-1.5zM616.2 293.7h0.7v1.5h-0.7zM470.9 293.6h1.6v1.6h-1.6zM616 294.8h0.8v0.4h-0.8zM476.3 293.9h1.5v1.3h-1.5zM502.7 294.5h1.5v0.7h-1.5zM479.5 294.8h1.6v0.4h-1.6zM600.9 294.2h1.5v1h-1.5zM502.2 294.5h1v0.7h-1zM657.2 294.8h1.4v0.4h-1.4zM496.8 293.9h1.6v1.3h-1.6zM447.4 294.8h0.9v0.4h-0.9zM673.8 294.3h1.4v0.9h-1.4zM457.3 294.8h1.1v0.4h-1.1zM550.4 294.5h0.7v0.7h-0.7zM639.9 294.8h1.5v0.4h-1.5zM488.4 294.8h1.6v0.4h-1.6zM459.5 294.6h1.7v0.6h-1.7zM635.5 294.4h0.9v0.8h-0.9zM577.7 294.7h1v0.5h-1zM619.3 294.4h1.7v0.8h-1.7zM519.3 294.8h0.9v0.4h-0.9zM610.1 294.4h1.4v0.8h-1.4zM511.3 294.6h0.7v0.6h-0.7zM423.1 294.2h0.7v1h-0.7zM576.4 294.8h0.8v0.4h-0.8zM623 294h1v1.2h-1zM440.6 294.7h0.7v0.5h-0.7zM673.6 294.8h1.2v0.4h-1.2zM444 294.8h1.8v0.4h-1.8zM592.9 294.4h1.5v0.8h-1.5zM623.6 294.5h1.4v0.7h-1.4zM487.9 294.8h1.5v0.4h-1.5zM608.7 294.3h1.4v0.9h-1.4zM421.3 294.5h0.7v0.7h-0.7zM647.7 294.8h0.9v0.4h-0.9zM550.7 294h1.4v1.2h-1.4zM434.7 294.3h0.8v0.9h-0.8zM493.6 294.7h1.6v0.5h-1.6zM457.2 294.8h0.9v0.4h-0.9zM466.6 294.8h1.1v0.4h-1.1zM448.6 294.8h0.7v0.4h-0.7zM564.4 294.4h0.9v0.8h-0.9zM525.7 294.5h1.8v0.7h-1.8zM675.3 294.8h1.7v0.4h-1.7zM629.2 294.8h0.8v0.4h-0.8zM541.5 294.8h1v0.4h-1zM514.4 294.6h1.2v0.6h-1.2zM407.3 294.7h0.9v0.5h-0.9zM660.7 294.8h0.8v0.4h-0.8zM499 294.8h1.6v0.4h-1.6zM408.3 293.8h1.3v1.4h-1.3zM610 294.8h1.2v0.4h-1.2zM460.3 294.3h1.2v0.9h-1.2zM471.6 294.8h0.6v0.4h-0.6zM421.9 294.6h1.8v0.6h-1.8zM656.5 294.8h1v0.4h-1zM583.9 294.7h1.6v0.5h-1.6zM454.8 294.7h1.7v0.5h-1.7zM479.6 294.4h1.1v0.8h-1.1zM540.1 294.1h1.8v1.1h-1.8zM560.8 293.6h0.9v1.6h-0.9zM490.2 294.7h1v0.5h-1zM681.3 294.8h1.6v0.4h-1.6zM603.1 294.5h1.2v0.7h-1.2zM641.6 294.8h1.7v0.4h-1.7zM503 294.8h0.6v0.4h-0.6zM625.3 294.8h1.6v0.4h-1.6zM463.1 293.7h1.3v1.5h-1.3zM681 294.8h1v0.4h-1zM684.7 294.8h1v0.4h-1zM500 294.7h1.4v0.5h-1.4zM507.2 294.7h1v0.5h-1zM505.1 294.4h1.7v0.8h-1.7zM555.4 294.8h1.8v0.4h-1.8zM478.9 294.4h1.5v0.8h-1.5zM543.5 294.8h1v0.4h-1zM606.1 293.7h1.7v1.5h-1.7zM526.4 294.5h1.2v0.7h-1.2zM471.3 294.1h1.3v1.1h-1.3zM491.9 294.8h1.4v0.4h-1.4zM402.9 294.2h0.7v1h-0.7zM650.7 294.8h0.7v0.4h-0.7zM657.4 294.5h1.2v0.7h-1.2zM466.9 294.3h0.8v0.9h-0.8zM663.7 294.2h1.5v1h-1.5zM680.1 293.7h1.7v1.5h-1.7zM401.4 294.7h0.7v0.5h-0.7zM518.4 294.1h1.6v1.1h-1.6zM560.5 294.8h0.7v0.4h-0.7zM588.4 294.8h1.1v0.4h-1.1zM407.1 294.1h0.8v1.1h-0.8zM453.4 294.7h0.8v0.5h-0.8zM508.3 293.9h1.2v1.3h-1.2zM400.7 294.6h1.4v0.6h-1.4zM658.9 294.4h1.8v0.8h-1.8zM613.4 294.6h1.5v0.6h-1.5zM668.3 293.9h0.8v1.3h-0.8zM662.5 294.6h1.5v0.6h-1.5zM596.9 294.8h1.2v0.4h-1.2zM403.9 294.6h0.9v0.6h-0.9zM414.1 294.6h1.2v0.6h-1.2zM413 294.4h1.7v0.8h-1.7zM559.5 294.8h1.2v0.4h-1.2zM503.1 294.6h1.5v0.6h-1.5zM613.5 294.8h1.8v0.4h-1.8zM680.5 294.7h1.1v0.5h-1.1zM491.5 294.8h1.4v0.4h-1.4zM601.2 294.7h0.9v0.5h-0.9zM579.5 294.8h1.2v0.4h-1.2zM474.6 294.8h1.6v0.4h-1.6zM650 294.8h1.5v0.4h-1.5zM438.8 294h1.3v1.2h-1.3zM652.2 293.8h1.1v1.4h-1.1zM561.8 294h1.3v1.2h-1.3zM610.8 294.8h1v0.4h-1zM516.6 294.8h0.7v0.4h-0.7zM513.2 294.8h1.5v0.4h-1.5z" fill="#ec7b3d"/>
<path d="M431.4 295.2L432 293.9L432.5 293.7L433 294.1L433.8 295.2z" fill="#ec7b3d"/>
<text x="396.2" y="286.3" font-size="6.6" fill="#333" stroke="#333" textLength="21.5" lengthAdjust="spacingAndGlyphs">[0 - 100]</text>
<rect x="568.3" y="14.4" width="16.1" height="280.8" rx="2.2" ry="2.2" fill="none" stroke="#333" stroke-width="0.7" stroke-dasharray="1.3 1.1"/>
<rect x="635.6" y="14.4" width="15.3" height="280.8" rx="2.2" ry="2.2" fill="none" stroke="#333" stroke-width="0.7" stroke-dasharray="1.3 1.1"/>
<text x="677.2" y="5.3" font-size="6.9" text-anchor="end" font-weight="normal" fill="#111" stroke="#111" >10 kb</text>
<line x1="662.5" y1="8.8" x2="673.9" y2="8.8" stroke="#333" stroke-width="1.4"/>
<text x="350.4" y="38" font-size="9.0" text-anchor="end" font-weight="normal" fill="#111" stroke="#111" >RNA-Seq</text>
<text x="351.8" y="89.3" font-size="9.3" text-anchor="end" font-weight="normal" fill="#111" stroke="#111" >ATAC-Seq</text>
<text x="351.8" y="127.5" font-size="9.0" text-anchor="end" font-weight="normal" fill="#111" stroke="#111" >CTCF</text>
<text x="351.8" y="165.5" font-size="9.0" text-anchor="end" font-weight="normal" fill="#111" stroke="#111" >RAD21</text>
<text x="351.8" y="207" font-size="9.0" text-anchor="end" font-weight="normal" fill="#111" stroke="#111" >DYNLL1</text>
<text x="351.8" y="243" font-size="9.0" text-anchor="end" font-weight="normal" fill="#111" stroke="#111" >H3K27ac</text>
<text x="351.8" y="280.8" font-size="9.0" text-anchor="end" font-weight="normal" fill="#111" stroke="#111" >IgG</text>
<text x="390.9" y="27.6" font-size="8.35" text-anchor="end" font-weight="normal" fill="#111" stroke="#111" >nonCSC</text>
<text x="388.4" y="40.7" font-size="8.35" text-anchor="end" font-weight="normal" fill="#111" stroke="#111" >CSC</text>
<text x="390.4" y="56.7" font-size="8.35" text-anchor="end" font-weight="normal" fill="#111" stroke="#111" >shTLK2</text>
<text x="388.4" y="82.2" font-size="8.35" text-anchor="end" font-weight="normal" fill="#111" stroke="#111" >shCtrl</text>
<text x="388.4" y="97.4" font-size="8.35" text-anchor="end" font-weight="normal" fill="#111" stroke="#111" >shTLK2</text>
<text x="388.4" y="119.9" font-size="8.35" text-anchor="end" font-weight="normal" fill="#111" stroke="#111" >shCtrl</text>
<text x="388.4" y="135.1" font-size="8.35" text-anchor="end" font-weight="normal" fill="#111" stroke="#111" >shTLK2</text>
<text x="388.4" y="157.9" font-size="8.35" text-anchor="end" font-weight="normal" fill="#111" stroke="#111" >shCtrl</text>
<text x="388.4" y="173.1" font-size="8.35" text-anchor="end" font-weight="normal" fill="#111" stroke="#111" >shTLK2</text>
<text x="388.4" y="198.5" font-size="8.35" text-anchor="end" font-weight="normal" fill="#111" stroke="#111" >shCtrl</text>
<text x="388.4" y="213.6" font-size="8.35" text-anchor="end" font-weight="normal" fill="#111" stroke="#111" >shTLK2</text>
<text x="388.4" y="234.5" font-size="8.35" text-anchor="end" font-weight="normal" fill="#111" stroke="#111" >shCtrl</text>
<text x="388.4" y="249.1" font-size="8.35" text-anchor="end" font-weight="normal" fill="#111" stroke="#111" >shTLK2</text>
<text x="388.4" y="272.3" font-size="8.35" text-anchor="end" font-weight="normal" fill="#111" stroke="#111" >shCtrl</text>
<text x="388.4" y="287.1" font-size="8.35" text-anchor="end" font-weight="normal" fill="#111" stroke="#111" >shTLK2</text>
<line x1="356.3" y1="17.9" x2="356.3" y2="57.6" stroke="#808080" stroke-width="0.9"/>
<line x1="356.3" y1="74.2" x2="356.3" y2="95.6" stroke="#808080" stroke-width="0.9"/>
<line x1="356.3" y1="113.7" x2="356.3" y2="135.7" stroke="#808080" stroke-width="0.9"/>
<line x1="356.3" y1="150.9" x2="356.3" y2="172.7" stroke="#808080" stroke-width="0.9"/>
<line x1="356.3" y1="193.7" x2="356.3" y2="215.5" stroke="#808080" stroke-width="0.9"/>
<line x1="356.3" y1="229.2" x2="356.3" y2="250.4" stroke="#808080" stroke-width="0.9"/>
<line x1="356.3" y1="267.5" x2="356.3" y2="289" stroke="#808080" stroke-width="0.9"/>
<line x1="311.3" y1="114.2" x2="311.3" y2="280.2" stroke="#8a8a8a" stroke-width="0.9"/>
<text x="0" y="0" font-size="9" text-anchor="middle" fill="#111" stroke="#111" transform="translate(306.1 186) rotate(-90)">CUT&amp;Tag</text>
<line x1="432.2" y1="304.3" x2="482.7" y2="304.3" stroke="#3434d8" stroke-width="0.6"/>
<rect x="432.1" y="301.6" width="0.8" height="5.5" fill="#3434d8"/>
<rect x="434.4" y="302.8" width="0.8" height="3" fill="#3434d8"/>
<rect x="441" y="303" width="0.8" height="2.6" fill="#3434d8"/>
<rect x="447.1" y="303" width="0.8" height="2.6" fill="#3434d8"/>
<rect x="449.1" y="301.8" width="0.8" height="5" fill="#3434d8"/>
<rect x="450.3" y="301.8" width="0.8" height="5" fill="#3434d8"/>
<rect x="451.6" y="301.8" width="0.8" height="5" fill="#3434d8"/>
<rect x="454.2" y="302.6" width="0.8" height="3.5" fill="#3434d8"/>
<rect x="456.2" y="301.8" width="0.8" height="5" fill="#3434d8"/>
<rect x="458.4" y="302.8" width="0.8" height="3" fill="#3434d8"/>
<rect x="461.1" y="301.8" width="0.8" height="5" fill="#3434d8"/>
<rect x="463.9" y="302.8" width="0.8" height="3" fill="#3434d8"/>
<rect x="467.9" y="301.8" width="0.8" height="5" fill="#3434d8"/>
<rect x="472.1" y="301.8" width="0.8" height="5" fill="#3434d8"/>
<rect x="474.3" y="301.8" width="0.8" height="5" fill="#3434d8"/>
<rect x="477.4" y="302.8" width="0.8" height="3" fill="#3434d8"/>
<rect x="480.6" y="301.8" width="2.1" height="5" fill="#3434d8"/>
<line x1="572.2" y1="304.4" x2="620.8" y2="304.4" stroke="#3434d8" stroke-width="0.6"/>
<rect x="572" y="302.4" width="0.8" height="4" fill="#3434d8"/>
<rect x="576" y="302.1" width="0.8" height="4.5" fill="#3434d8"/>
<rect x="580.8" y="301.9" width="0.8" height="5" fill="#3434d8"/>
<rect x="583.1" y="301.9" width="0.8" height="5" fill="#3434d8"/>
<rect x="599.1" y="301.9" width="0.8" height="5" fill="#3434d8"/>
<rect x="601.1" y="302.4" width="0.8" height="4" fill="#3434d8"/>
<rect x="602.6" y="302.4" width="0.8" height="4" fill="#3434d8"/>
<rect x="604.8" y="301.9" width="0.8" height="5" fill="#3434d8"/>
<rect x="608.1" y="301.9" width="0.8" height="5" fill="#3434d8"/>
<rect x="620.2" y="301.9" width="0.8" height="5" fill="#3434d8"/>
<path d="M588 303.1L586.8 304.4L588 305.7" fill="none" stroke="#3434d8" stroke-width="0.6"/>
<path d="M594.2 303.1L593 304.4L594.2 305.7" fill="none" stroke="#3434d8" stroke-width="0.6"/>
<path d="M612.7 303.1L611.5 304.4L612.7 305.7" fill="none" stroke="#3434d8" stroke-width="0.6"/>
<path d="M618.7 303.1L617.5 304.4L618.7 305.7" fill="none" stroke="#3434d8" stroke-width="0.6"/>
<line x1="639.6" y1="304.4" x2="644.8" y2="304.4" stroke="#3434d8" stroke-width="0.6"/>
<rect x="639.6" y="301.4" width="1.4" height="6" fill="#3434d8"/>
<rect x="641.7" y="301.4" width="3.1" height="6" fill="#3434d8"/>
<text x="454" y="320.8" font-size="9.3" text-anchor="middle" font-weight="normal" fill="#111" stroke="#111" textLength="31.6" lengthAdjust="spacingAndGlyphs">RAD23B</text>
<text x="593.4" y="320.8" font-size="9.3" text-anchor="middle" font-weight="normal" fill="#111" stroke="#111" textLength="41.8" lengthAdjust="spacingAndGlyphs">LINC01509</text>
<text x="641.7" y="320.8" font-size="9.3" text-anchor="middle" font-weight="normal" fill="#111" stroke="#111" textLength="18.8" lengthAdjust="spacingAndGlyphs">KLF4</text>
<line x1="50.2" y1="375.2" x2="50.2" y2="472.6" stroke="#555" stroke-width="0.8"/>
<line x1="50.2" y1="472.4" x2="157.9" y2="472.4" stroke="#555" stroke-width="0.8"/>
<line x1="69.4" y1="472.4" x2="69.4" y2="476.6" stroke="#555" stroke-width="0.8"/>
<line x1="87.7" y1="472.4" x2="87.7" y2="476.6" stroke="#555" stroke-width="0.8"/>
<line x1="106" y1="472.4" x2="106" y2="476.6" stroke="#555" stroke-width="0.8"/>
<line x1="124.2" y1="472.4" x2="124.2" y2="476.6" stroke="#555" stroke-width="0.8"/>
<line x1="142.4" y1="472.4" x2="142.4" y2="476.6" stroke="#555" stroke-width="0.8"/>
<line x1="47.0" y1="472.4" x2="50.2" y2="472.4" stroke="#555" stroke-width="0.8"/>
<text x="43.6" y="475.5" font-size="8.7" text-anchor="end" font-weight="normal" fill="#1a1a1a" stroke="#1a1a1a" >0.0</text>
<line x1="48.4" y1="464.3" x2="50.2" y2="464.3" stroke="#555" stroke-width="0.8"/>
<line x1="47.0" y1="456.2" x2="50.2" y2="456.2" stroke="#555" stroke-width="0.8"/>
<text x="43.6" y="459.3" font-size="8.7" text-anchor="end" font-weight="normal" fill="#1a1a1a" stroke="#1a1a1a" >0.2</text>
<line x1="48.4" y1="448.1" x2="50.2" y2="448.1" stroke="#555" stroke-width="0.8"/>
<line x1="47.0" y1="440" x2="50.2" y2="440" stroke="#555" stroke-width="0.8"/>
<text x="43.6" y="443.1" font-size="8.7" text-anchor="end" font-weight="normal" fill="#1a1a1a" stroke="#1a1a1a" >0.4</text>
<line x1="48.4" y1="431.9" x2="50.2" y2="431.9" stroke="#555" stroke-width="0.8"/>
<line x1="47.0" y1="423.8" x2="50.2" y2="423.8" stroke="#555" stroke-width="0.8"/>
<text x="43.6" y="426.9" font-size="8.7" text-anchor="end" font-weight="normal" fill="#1a1a1a" stroke="#1a1a1a" >0.6</text>
<line x1="48.4" y1="415.7" x2="50.2" y2="415.7" stroke="#555" stroke-width="0.8"/>
<line x1="47.0" y1="407.6" x2="50.2" y2="407.6" stroke="#555" stroke-width="0.8"/>
<text x="43.6" y="410.7" font-size="8.7" text-anchor="end" font-weight="normal" fill="#1a1a1a" stroke="#1a1a1a" >0.8</text>
<line x1="48.4" y1="399.5" x2="50.2" y2="399.5" stroke="#555" stroke-width="0.8"/>
<line x1="47.0" y1="391.4" x2="50.2" y2="391.4" stroke="#555" stroke-width="0.8"/>
<text x="43.6" y="394.5" font-size="8.7" text-anchor="end" font-weight="normal" fill="#1a1a1a" stroke="#1a1a1a" >1.0</text>
<line x1="48.4" y1="383.3" x2="50.2" y2="383.3" stroke="#555" stroke-width="0.8"/>
<line x1="47.0" y1="375.2" x2="50.2" y2="375.2" stroke="#555" stroke-width="0.8"/>
<text x="43.6" y="378.3" font-size="8.7" text-anchor="end" font-weight="normal" fill="#1a1a1a" stroke="#1a1a1a" >1.2</text>
<rect x="61.8" y="391.4" width="15.2" height="81" fill="#17989f"/>
<rect x="80.2" y="418.7" width="15.1" height="53.7" fill="#ec7b3d"/>
<rect x="98.4" y="423" width="15.2" height="49.4" fill="#ec7b3d"/>
<rect x="116.7" y="442.4" width="15.1" height="30" fill="#ec7b3d"/>
<rect x="134.8" y="438.4" width="15.3" height="34" fill="#ec7b3d"/>
<circle cx="64.4" cy="392.9" r="2.4" fill="#ffffff" fill-opacity="0.45" stroke="#d0d0d0" stroke-width="0.4"/>
<circle cx="69.4" cy="391.1" r="2.4" fill="#ffffff" fill-opacity="0.45" stroke="#d0d0d0" stroke-width="0.4"/>
<circle cx="74.4" cy="392.2" r="2.4" fill="#ffffff" fill-opacity="0.45" stroke="#d0d0d0" stroke-width="0.4"/>
<path d="M65.9 390.6H72.9M69.4 390.6V391.4" stroke="#222" stroke-width="0.65" fill="none"/>
<circle cx="82.8" cy="420.2" r="2.4" fill="#ffffff" fill-opacity="0.45" stroke="#d0d0d0" stroke-width="0.4"/>
<circle cx="87.8" cy="418.4" r="2.4" fill="#ffffff" fill-opacity="0.45" stroke="#d0d0d0" stroke-width="0.4"/>
<circle cx="92.8" cy="419.5" r="2.4" fill="#ffffff" fill-opacity="0.45" stroke="#d0d0d0" stroke-width="0.4"/>
<path d="M84.2 417.9H91.2M87.8 417.9V418.7" stroke="#222" stroke-width="0.65" fill="none"/>
<circle cx="101" cy="424.5" r="2.4" fill="#ffffff" fill-opacity="0.45" stroke="#d0d0d0" stroke-width="0.4"/>
<circle cx="106" cy="422.7" r="2.4" fill="#ffffff" fill-opacity="0.45" stroke="#d0d0d0" stroke-width="0.4"/>
<circle cx="111" cy="423.8" r="2.4" fill="#ffffff" fill-opacity="0.45" stroke="#d0d0d0" stroke-width="0.4"/>
<path d="M102.5 422.2H109.5M106 422.2V423" stroke="#222" stroke-width="0.65" fill="none"/>
<circle cx="119.2" cy="443.9" r="2.4" fill="#ffffff" fill-opacity="0.45" stroke="#d0d0d0" stroke-width="0.4"/>
<circle cx="124.2" cy="442.1" r="2.4" fill="#ffffff" fill-opacity="0.45" stroke="#d0d0d0" stroke-width="0.4"/>
<circle cx="129.2" cy="443.3" r="2.4" fill="#ffffff" fill-opacity="0.45" stroke="#d0d0d0" stroke-width="0.4"/>
<path d="M120.8 441.5H127.8M124.2 441.5V442.4" stroke="#222" stroke-width="0.65" fill="none"/>
<circle cx="137.4" cy="439.9" r="2.4" fill="#ffffff" fill-opacity="0.45" stroke="#d0d0d0" stroke-width="0.4"/>
<circle cx="142.4" cy="438.1" r="2.4" fill="#ffffff" fill-opacity="0.45" stroke="#d0d0d0" stroke-width="0.4"/>
<circle cx="147.4" cy="439.2" r="2.4" fill="#ffffff" fill-opacity="0.45" stroke="#d0d0d0" stroke-width="0.4"/>
<path d="M138.9 437.2H145.9M142.4 437.2V438.4" stroke="#222" stroke-width="0.65" fill="none"/>
<text x="88.1" y="411.9" font-size="8.6" text-anchor="middle" font-weight="normal" fill="#111" stroke="#111" letter-spacing="0.7">***</text>
<text x="106.4" y="415.9" font-size="8.6" text-anchor="middle" font-weight="normal" fill="#111" stroke="#111" letter-spacing="0.7">***</text>
<text x="124.6" y="436.7" font-size="8.6" text-anchor="middle" font-weight="normal" fill="#111" stroke="#111" letter-spacing="0.7">***</text>
<text x="142.8" y="429.4" font-size="8.6" text-anchor="middle" font-weight="normal" fill="#111" stroke="#111" letter-spacing="0.7">***</text>
<text x="0" y="0" font-size="8.8" text-anchor="middle" fill="#111" stroke="#111" transform="translate(26.0 423.3) rotate(-90)">Relative mRNA expression</text>
<text x="0" y="0" font-size="9.4" text-anchor="end" fill="#111" stroke="#111" transform="translate(74.4 484.5) rotate(-45)">shCtrl</text>
<text x="0" y="0" font-size="9.4" text-anchor="end" fill="#111" stroke="#111" transform="translate(92.7 484.5) rotate(-45)">shTLK2 #1</text>
<text x="0" y="0" font-size="9.4" text-anchor="end" fill="#111" stroke="#111" transform="translate(111 484.5) rotate(-45)">shTLK2 #2</text>
<text x="0" y="0" font-size="9.4" text-anchor="end" fill="#111" stroke="#111" transform="translate(129.2 484.5) rotate(-45)">shDYNLL11 #1</text>
<text x="0" y="0" font-size="9.4" text-anchor="end" fill="#111" stroke="#111" transform="translate(147.4 484.5) rotate(-45)">shDYNLL1 #2</text>
<defs><filter id="bl" x="-50%" y="-80%" width="200%" height="260%"><feGaussianBlur stdDeviation="0.9"/></filter></defs>
<rect x="219.1" y="411.8" width="96.6" height="15.8" fill="#f3f3f3" stroke="#4a4a4a" stroke-width="0.75"/>
<rect x="219.9" y="417.6" width="17" height="4.2" rx="2.5" fill="rgb(10,10,10)" filter="url(#bl)"/>
<rect x="239.6" y="418.2" width="17" height="3" rx="2.5" fill="rgb(140,140,140)" filter="url(#bl)"/>
<rect x="259.3" y="417.9" width="17" height="3.6" rx="2.5" fill="rgb(130,130,130)" filter="url(#bl)"/>
<rect x="278.5" y="418" width="17" height="3.4" rx="2.5" fill="rgb(120,120,120)" filter="url(#bl)"/>
<rect x="298.7" y="417.9" width="17" height="3.6" rx="2.5" fill="rgb(126,126,126)" filter="url(#bl)"/>
<text x="320.3" y="423.1" font-size="9.3" text-anchor="start" font-weight="normal" fill="#111" stroke="#111" >KLF4</text>
<text x="214.6" y="425.1" font-size="6.9" text-anchor="end" font-weight="normal" fill="#111" stroke="#111" >50 kDa</text>
<line x1="216.3" y1="422.7" x2="218.6" y2="422.7" stroke="#333" stroke-width="0.7"/>
<rect x="219.1" y="430.2" width="96.6" height="15.8" fill="#e6e6e6" stroke="#4a4a4a" stroke-width="0.75"/>
<rect x="219.9" y="434.6" width="17" height="7" rx="2.5" fill="rgb(0,0,0)" filter="url(#bl)"/>
<rect x="239.6" y="435.9" width="17" height="4.5" rx="2.5" fill="rgb(76,76,76)" filter="url(#bl)"/>
<rect x="259.3" y="435.9" width="17" height="4.5" rx="2.5" fill="rgb(104,104,104)" filter="url(#bl)"/>
<rect x="278.5" y="435.4" width="17" height="5.5" rx="2.5" fill="rgb(16,16,16)" filter="url(#bl)"/>
<rect x="298.7" y="434.6" width="17" height="7" rx="2.5" fill="rgb(0,0,0)" filter="url(#bl)"/>
<text x="320.3" y="441.5" font-size="9.3" text-anchor="start" font-weight="normal" fill="#111" stroke="#111" >TLK2</text>
<text x="214.6" y="440.5" font-size="6.9" text-anchor="end" font-weight="normal" fill="#111" stroke="#111" >70 kDa</text>
<line x1="216.3" y1="438.1" x2="218.6" y2="438.1" stroke="#333" stroke-width="0.7"/>
<rect x="219.1" y="448.6" width="96.6" height="15.8" fill="#ececec" stroke="#4a4a4a" stroke-width="0.75"/>
<rect x="219.9" y="454.7" width="17" height="3.6" rx="2.5" fill="rgb(16,16,16)" filter="url(#bl)"/>
<rect x="239.6" y="454.6" width="17" height="3.8" rx="2.5" fill="rgb(6,6,6)" filter="url(#bl)"/>
<rect x="259.3" y="454.6" width="17" height="3.8" rx="2.5" fill="rgb(24,24,24)" filter="url(#bl)"/>
<rect x="278.5" y="455" width="17" height="3" rx="2.5" fill="rgb(104,104,104)" filter="url(#bl)"/>
<rect x="298.7" y="455" width="17" height="3" rx="2.5" fill="rgb(110,110,110)" filter="url(#bl)"/>
<text x="320.3" y="459.9" font-size="9.3" text-anchor="start" font-weight="normal" fill="#111" stroke="#111" >DYNLL1</text>
<text x="214.6" y="457.2" font-size="6.9" text-anchor="end" font-weight="normal" fill="#111" stroke="#111" >15 kDa</text>
<line x1="216.3" y1="454.8" x2="218.6" y2="454.8" stroke="#333" stroke-width="0.7"/>
<rect x="219.1" y="467" width="96.6" height="15.8" fill="#e4e4e4" stroke="#4a4a4a" stroke-width="0.75"/>
<rect x="219.9" y="471.9" width="17" height="6" rx="2.5" fill="rgb(20,20,20)" filter="url(#bl)"/>
<rect x="239.6" y="471.9" width="17" height="6" rx="2.5" fill="rgb(10,10,10)" filter="url(#bl)"/>
<rect x="259.3" y="471.6" width="17" height="6.5" rx="2.5" fill="rgb(0,0,0)" filter="url(#bl)"/>
<rect x="278.5" y="471.6" width="17" height="6.5" rx="2.5" fill="rgb(0,0,0)" filter="url(#bl)"/>
<rect x="298.7" y="471.6" width="17" height="6.5" rx="2.5" fill="rgb(0,0,0)" filter="url(#bl)"/>
<text x="320.3" y="478.3" font-size="9.3" text-anchor="start" font-weight="normal" fill="#111" stroke="#111" >GAPDH</text>
<text x="214.6" y="479.5" font-size="6.9" text-anchor="end" font-weight="normal" fill="#111" stroke="#111" >35 kDa</text>
<line x1="216.3" y1="477.1" x2="218.6" y2="477.1" stroke="#333" stroke-width="0.7"/>
<text x="0" y="0" font-size="9" fill="#111" stroke="#111" transform="translate(230 407.3) rotate(-45)">shCtrl</text>
<text x="0" y="0" font-size="9" fill="#111" stroke="#111" transform="translate(249.7 407.3) rotate(-45)">shTLK2 #1</text>
<text x="0" y="0" font-size="9" fill="#111" stroke="#111" transform="translate(269.4 407.3) rotate(-45)">shTLK2 #2</text>
<text x="0" y="0" font-size="9" fill="#111" stroke="#111" transform="translate(288.6 407.3) rotate(-45)">shDYNLL1 #1</text>
<text x="0" y="0" font-size="9" fill="#111" stroke="#111" transform="translate(308.8 407.3) rotate(-45)">shDYNLL1 #2</text>
<text x="472.2" y="355.2" font-size="9.4" text-anchor="middle" font-weight="normal" fill="#111" stroke="#111" textLength="20.8" lengthAdjust="spacingAndGlyphs">KLF4</text>
<text x="581.9" y="357.6" font-size="9.2" text-anchor="middle" font-weight="normal" fill="#111" stroke="#111" textLength="44.2" lengthAdjust="spacingAndGlyphs">LINC01509</text>
<line x1="419" y1="369.9" x2="646.7" y2="369.9" stroke="#bdbdbd" stroke-width="1.3"/>
<path d="M464.9 369V360.8H473.6" fill="none" stroke="#222" stroke-width="0.7"/><path d="M472.6 359.2L475.3 360.8L472.6 362.4z" fill="#222"/>
<rect x="465.0" y="367.6" width="2.2" height="4.6" fill="#3434d8"/><rect x="468.0" y="367.6" width="2.2" height="4.6" fill="#3434d8"/><rect x="471.0" y="367.6" width="2.6" height="4.6" fill="#3434d8"/><path d="M473.6 367.6L476.4 369.9L473.6 372.2z" fill="#3434d8"/>
<line x1="517.7" y1="369.9" x2="625" y2="369.9" stroke="#3434d8" stroke-width="0.9"/>
<rect x="517.4" y="367.7" width="1.0" height="4.4" fill="#3434d8"/>
<rect x="545.2" y="367.7" width="1.0" height="4.4" fill="#3434d8"/>
<rect x="549.1" y="367.7" width="1.0" height="4.4" fill="#3434d8"/>
<rect x="557" y="367.7" width="1.0" height="4.4" fill="#3434d8"/>
<rect x="600" y="367.7" width="1.0" height="4.4" fill="#3434d8"/>
<rect x="605" y="367.7" width="1.0" height="4.4" fill="#3434d8"/>
<rect x="624.1" y="367.7" width="1.0" height="4.4" fill="#3434d8"/>
<path d="M521.4 368.1L523 369.9L521.4 371.7" fill="none" stroke="#3434d8" stroke-width="0.9"/>
<path d="M536.4 368.1L538 369.9L536.4 371.7" fill="none" stroke="#3434d8" stroke-width="0.9"/>
<path d="M551.4 368.1L553 369.9L551.4 371.7" fill="none" stroke="#3434d8" stroke-width="0.9"/>
<path d="M566.4 368.1L568 369.9L566.4 371.7" fill="none" stroke="#3434d8" stroke-width="0.9"/>
<path d="M576.4 368.1L578 369.9L576.4 371.7" fill="none" stroke="#3434d8" stroke-width="0.9"/>
<path d="M589.4 368.1L591 369.9L589.4 371.7" fill="none" stroke="#3434d8" stroke-width="0.9"/>
<path d="M614.4 368.1L616 369.9L614.4 371.7" fill="none" stroke="#3434d8" stroke-width="0.9"/>
<rect x="563.2" y="367.6" width="2.0" height="4.6" fill="#3434d8"/>
<line x1="438.9" y1="377.4" x2="438.9" y2="380.6" stroke="#333" stroke-width="0.7"/>
<text x="438.9" y="388.6" font-size="7.0" text-anchor="middle" font-weight="normal" fill="#111" stroke="#111" >P1</text>
<line x1="496.4" y1="377.4" x2="496.4" y2="380.6" stroke="#333" stroke-width="0.7"/>
<text x="496.4" y="388.6" font-size="7.0" text-anchor="middle" font-weight="normal" fill="#111" stroke="#111" >P2</text>
<line x1="531.7" y1="377.4" x2="531.7" y2="380.6" stroke="#333" stroke-width="0.7"/>
<text x="531.7" y="388.6" font-size="7.0" text-anchor="middle" font-weight="normal" fill="#111" stroke="#111" >P3</text>
<line x1="598.1" y1="377.4" x2="598.1" y2="380.6" stroke="#333" stroke-width="0.7"/>
<text x="598.1" y="388.6" font-size="7.0" text-anchor="middle" font-weight="normal" fill="#111" stroke="#111" >P4</text>
<line x1="617.3" y1="377.4" x2="617.3" y2="380.6" stroke="#333" stroke-width="0.7"/>
<text x="617.3" y="388.6" font-size="7.0" text-anchor="middle" font-weight="normal" fill="#111" stroke="#111" >P5</text>
<line x1="635.2" y1="377.4" x2="635.2" y2="380.6" stroke="#333" stroke-width="0.7"/>
<text x="635.2" y="388.6" font-size="7.0" text-anchor="middle" font-weight="normal" fill="#111" stroke="#111" >P6</text>
<line x1="464.1" y1="377.4" x2="464.1" y2="380.6" stroke="#ee1f2a" stroke-width="0.7"/>
<path d="M464.1 388.6V383.6" stroke="#ee1f2a" stroke-width="0.8"/><path d="M462.4 384.8L464.1 381.9L465.8 384.8z" fill="#ee1f2a"/>
<text x="467.9" y="397.4" font-size="6.8" text-anchor="middle" font-weight="normal" fill="#ee1f2a" stroke="#ee1f2a" >Bait fragment</text>
<line x1="420.3" y1="409.1" x2="420.3" y2="484.6" stroke="#555" stroke-width="0.8"/>
<line x1="417.2" y1="484.4" x2="420.3" y2="484.4" stroke="#555" stroke-width="0.8"/>
<text x="416" y="487.1" font-size="7.6" text-anchor="end" font-weight="normal" fill="#222" stroke="#222" >0</text>
<line x1="417.2" y1="469.3" x2="420.3" y2="469.3" stroke="#555" stroke-width="0.8"/>
<text x="416" y="472" font-size="7.6" text-anchor="end" font-weight="normal" fill="#222" stroke="#222" >10</text>
<line x1="417.2" y1="454.3" x2="420.3" y2="454.3" stroke="#555" stroke-width="0.8"/>
<text x="416" y="457" font-size="7.6" text-anchor="end" font-weight="normal" fill="#222" stroke="#222" >20</text>
<line x1="417.2" y1="439.2" x2="420.3" y2="439.2" stroke="#555" stroke-width="0.8"/>
<text x="416" y="441.9" font-size="7.6" text-anchor="end" font-weight="normal" fill="#222" stroke="#222" >30</text>
<line x1="417.2" y1="424.2" x2="420.3" y2="424.2" stroke="#555" stroke-width="0.8"/>
<text x="416" y="426.9" font-size="7.6" text-anchor="end" font-weight="normal" fill="#222" stroke="#222" >40</text>
<line x1="417.2" y1="409.1" x2="420.3" y2="409.1" stroke="#555" stroke-width="0.8"/>
<text x="416" y="411.8" font-size="7.6" text-anchor="end" font-weight="normal" fill="#222" stroke="#222" >50</text>
<line x1="418.6" y1="476.9" x2="420.3" y2="476.9" stroke="#555" stroke-width="0.7"/>
<line x1="418.6" y1="461.8" x2="420.3" y2="461.8" stroke="#555" stroke-width="0.7"/>
<line x1="418.6" y1="446.8" x2="420.3" y2="446.8" stroke="#555" stroke-width="0.7"/>
<line x1="418.6" y1="431.7" x2="420.3" y2="431.7" stroke="#555" stroke-width="0.7"/>
<line x1="418.6" y1="416.6" x2="420.3" y2="416.6" stroke="#555" stroke-width="0.7"/>
<line x1="425.0" y1="494.9" x2="645.6" y2="494.9" stroke="#777" stroke-width="0.95"/>
<line x1="425.2" y1="490.8" x2="425.2" y2="494.9" stroke="#777" stroke-width="0.9"/>
<text x="425.2" y="505" font-size="8.0" text-anchor="middle" font-weight="normal" fill="#222" stroke="#222" >-20</text>
<line x1="469.4" y1="490.8" x2="469.4" y2="494.9" stroke="#777" stroke-width="0.9"/>
<text x="469.4" y="505" font-size="8.0" text-anchor="middle" font-weight="normal" fill="#222" stroke="#222" >0</text>
<line x1="513.5" y1="490.8" x2="513.5" y2="494.9" stroke="#777" stroke-width="0.9"/>
<text x="513.5" y="505" font-size="8.0" text-anchor="middle" font-weight="normal" fill="#222" stroke="#222" >20</text>
<line x1="557.6" y1="490.8" x2="557.6" y2="494.9" stroke="#777" stroke-width="0.9"/>
<text x="557.6" y="505" font-size="8.0" text-anchor="middle" font-weight="normal" fill="#222" stroke="#222" >40</text>
<line x1="601.7" y1="490.8" x2="601.7" y2="494.9" stroke="#777" stroke-width="0.9"/>
<text x="601.7" y="505" font-size="8.0" text-anchor="middle" font-weight="normal" fill="#222" stroke="#222" >60</text>
<line x1="645.8" y1="490.8" x2="645.8" y2="494.9" stroke="#777" stroke-width="0.9"/>
<text x="645.8" y="505" font-size="8.0" text-anchor="middle" font-weight="normal" fill="#222" stroke="#222" >80</text>
<text x="532" y="515.5" font-size="9.25" text-anchor="middle" font-weight="normal" fill="#111" stroke="#111" >Distance from bait fragment (kb)</text>
<text x="0" y="0" font-size="9.25" text-anchor="middle" fill="#111" stroke="#111" transform="translate(400.2 437.7) rotate(-90)">Rel. 3C interaction frequency</text>
<path d="M442.9 484.4H599" stroke="#ee7f47" stroke-width="0.9"/>
<path d="M599 484.4L614.2 443.3L634.3 484.4" fill="none" stroke="#f5bd9c" stroke-width="0.75"/>
<path d="M614.2 447.1V439.5M612.2 439.5H616.2M612.2 447.1H616.2" stroke="#f5bd9c" stroke-width="0.7" fill="none"/>
<rect x="612.1" y="441.2" width="4.2" height="4.2" fill="none" stroke="#f5bd9c" stroke-width="0.8"/>
<path d="M599 484.4L614.2 449L634.3 484.4" fill="none" stroke="#f3a57c" stroke-width="0.75"/>
<path d="M614.2 452.8V445.2M612.2 445.2H616.2M612.2 452.8H616.2" stroke="#f3a57c" stroke-width="0.7" fill="none"/>
<path d="M614.2 446.9L616.3 449L614.2 451.1L612.1 449z" fill="none" stroke="#f3a57c" stroke-width="0.8"/>
<path d="M599 484.4L614.2 455L634.3 484.4" fill="none" stroke="#f08f5c" stroke-width="0.75"/>
<path d="M614.2 458.8V451.3M612.2 451.3H616.2M612.2 458.8H616.2" stroke="#f08f5c" stroke-width="0.7" fill="none"/>
<path d="M614.2 457.1L616.3 453.4L612.1 453.4z" fill="none" stroke="#f08f5c" stroke-width="0.8"/>
<path d="M599 484.4L614.2 461.1L634.3 484.4" fill="none" stroke="#ee7f47" stroke-width="0.75"/>
<path d="M614.2 464.8V457.3M612.2 457.3H616.2M612.2 464.8H616.2" stroke="#ee7f47" stroke-width="0.7" fill="none"/>
<path d="M614.2 459L616.3 462.7L612.1 462.7z" fill="none" stroke="#ee7f47" stroke-width="0.8"/>
<path d="M599 484.4L614.2 426.7L634.3 484.4" fill="none" stroke="#33a9b2" stroke-width="0.75"/>
<path d="M614.2 437.3V416.2M612.2 416.2H616.2M612.2 437.3H616.2" stroke="#33a9b2" stroke-width="0.7" fill="none"/>
<circle cx="614.2" cy="426.7" r="2.1" fill="none" stroke="#33a9b2" stroke-width="0.8"/>
<rect x="440.9" y="482.4" width="4" height="4" fill="#f3b089" stroke="#d9703a" stroke-width="0.8"/>
<rect x="498.2" y="482.4" width="4" height="4" fill="#f3b089" stroke="#d9703a" stroke-width="0.8"/>
<rect x="530.6" y="482.4" width="4" height="4" fill="#f3b089" stroke="#d9703a" stroke-width="0.8"/>
<rect x="597" y="482.4" width="4" height="4" fill="#f3b089" stroke="#d9703a" stroke-width="0.8"/>
<rect x="632.3" y="482.4" width="4" height="4" fill="#f3b089" stroke="#d9703a" stroke-width="0.8"/>
<text x="442.8" y="478.8" font-size="7.2" text-anchor="middle" font-weight="normal" fill="#111" stroke="#111" >P1</text>
<text x="499.8" y="478.8" font-size="7.2" text-anchor="middle" font-weight="normal" fill="#111" stroke="#111" >P2</text>
<text x="534.3" y="478.1" font-size="7.2" text-anchor="middle" font-weight="normal" fill="#111" stroke="#111" >P3</text>
<text x="591.8" y="478.1" font-size="7.2" text-anchor="middle" font-weight="normal" fill="#111" stroke="#111" >P4</text>
<text x="624.4" y="427.3" font-size="7.2" text-anchor="middle" font-weight="normal" fill="#111" stroke="#111" >P5</text>
<text x="643.1" y="479.7" font-size="7.2" text-anchor="middle" font-weight="normal" fill="#111" stroke="#111" >P6</text>
<line x1="481.8" y1="418.7" x2="503.4" y2="418.7" stroke="#33a9b2" stroke-width="0.9"/>
<circle cx="492.6" cy="418.7" r="2.6" fill="none" stroke="#33a9b2" stroke-width="0.8"/>
<text x="507.5" y="421.3" font-size="7.05" text-anchor="start" font-weight="normal" fill="#111" stroke="#111" >shCtrl</text>
<line x1="481.8" y1="428.8" x2="503.4" y2="428.8" stroke="#ee7f47" stroke-width="0.9"/>
<path d="M492.6 426.2L495.2 430.9L490 430.9z" fill="none" stroke="#ee7f47" stroke-width="0.8"/>
<text x="507.5" y="431.4" font-size="7.05" text-anchor="start" font-weight="normal" fill="#111" stroke="#111" >shTLK2 #1</text>
<line x1="481.8" y1="439" x2="503.4" y2="439" stroke="#f08f5c" stroke-width="0.9"/>
<path d="M492.6 441.6L495.2 436.9L490 436.9z" fill="none" stroke="#f08f5c" stroke-width="0.8"/>
<text x="507.5" y="441.6" font-size="7.05" text-anchor="start" font-weight="normal" fill="#111" stroke="#111" >shTLK2 #2</text>
<line x1="481.8" y1="448.6" x2="503.4" y2="448.6" stroke="#f3a57c" stroke-width="0.9"/>
<path d="M492.6 446L495.2 448.6L492.6 451.2L490 448.6z" fill="none" stroke="#f3a57c" stroke-width="0.8"/>
<text x="507.5" y="451.2" font-size="7.05" text-anchor="start" font-weight="normal" fill="#111" stroke="#111" >shDYNLL1 #1</text>
<line x1="481.8" y1="458.7" x2="503.4" y2="458.7" stroke="#f5bd9c" stroke-width="0.9"/>
<rect x="490" y="456.1" width="5.2" height="5.2" fill="none" stroke="#f5bd9c" stroke-width="0.8"/>
<text x="507.5" y="461.3" font-size="7.05" text-anchor="start" font-weight="normal" fill="#111" stroke="#111" >shDYNLL1 #2</text>
<path d="M478.3 418.7H454.3V444.8H462.7M478.3 428.8H462.7V458.7H478.3M462.7 439H478.3M462.7 448.6H478.3" fill="none" stroke="#333" stroke-width="0.7"/>
<text x="444.7" y="435" font-size="7.5" text-anchor="middle" font-weight="normal" fill="#111" stroke="#111" >P5</text>
<text x="470.2" y="429.8" font-size="7.6" text-anchor="middle" font-weight="normal" fill="#111" stroke="#111" >***</text>
<text x="470.2" y="440.6" font-size="7.6" text-anchor="middle" font-weight="normal" fill="#111" stroke="#111" >**</text>
<text x="470.2" y="450.1" font-size="7.6" text-anchor="middle" font-weight="normal" fill="#111" stroke="#111" >**</text>
<text x="470.2" y="460.2" font-size="7.6" text-anchor="middle" font-weight="normal" fill="#111" stroke="#111" >*</text>
</svg></body></html>
